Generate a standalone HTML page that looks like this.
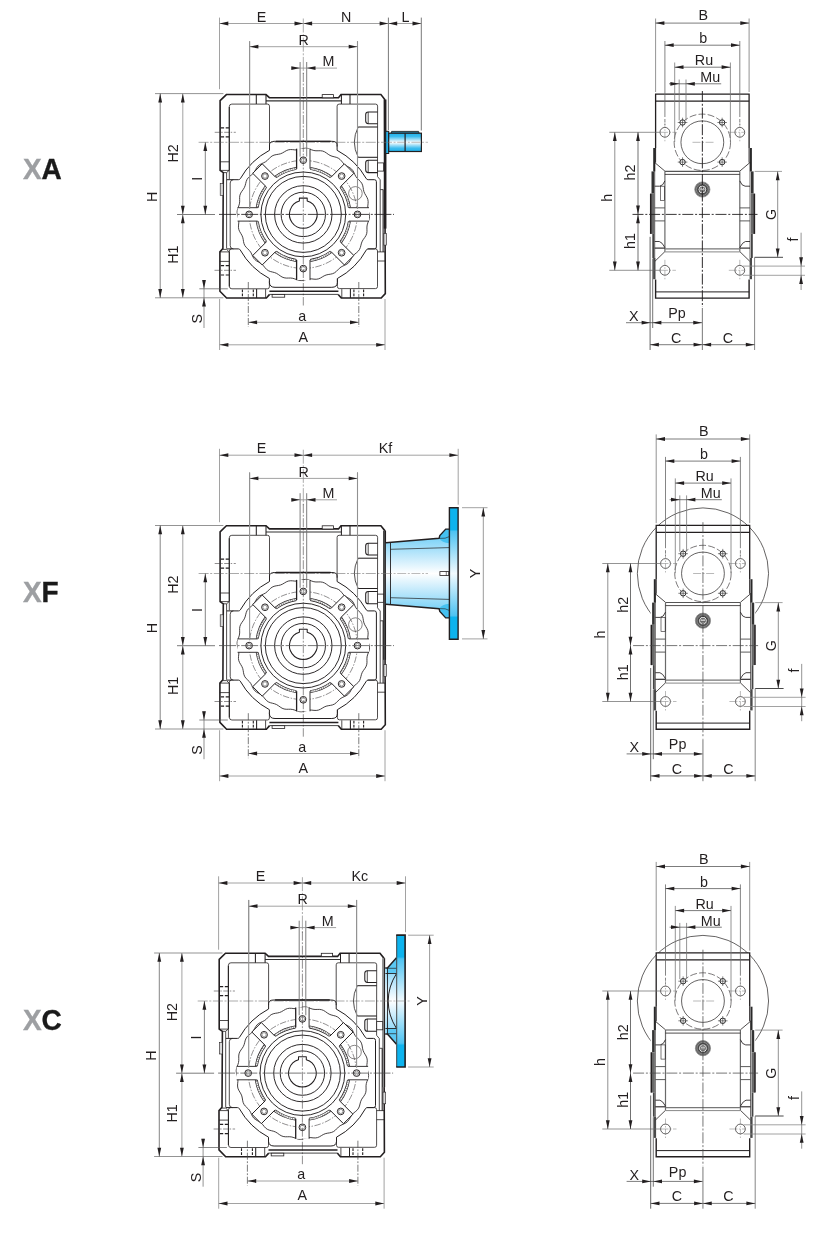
<!DOCTYPE html>
<html lang="en">
<head>
<meta charset="utf-8">
<title>XA XF XC dimensions</title>
<style>
html,body{margin:0;padding:0;background:#fff;}
body{width:822px;height:1255px;overflow:hidden;font-family:'Liberation Sans', Arial, Helvetica, sans-serif;}
svg{display:block;will-change:transform;transform:translateZ(0);}
svg text{font-family:'Liberation Sans', Arial, Helvetica, sans-serif;}
</style>
</head>
<body>
<svg width="822" height="1255" viewBox="0 0 822 1255">
<defs>
<linearGradient id="gs" x1="0" y1="0" x2="0" y2="1">
<stop offset="0" stop-color="#1fb1ea"/><stop offset="0.18" stop-color="#3dbcee"/><stop offset="0.5" stop-color="#ffffff"/><stop offset="0.82" stop-color="#3dbcee"/><stop offset="1" stop-color="#1fb1ea"/>
</linearGradient>
<linearGradient id="gf" x1="0" y1="0" x2="0" y2="1">
<stop offset="0" stop-color="#5ec9f4"/><stop offset="0.1" stop-color="#7dd3f7"/><stop offset="0.3" stop-color="#bfe8fb"/><stop offset="0.5" stop-color="#ffffff"/><stop offset="0.7" stop-color="#bfe8fb"/><stop offset="0.9" stop-color="#7dd3f7"/><stop offset="1" stop-color="#5ec9f4"/>
</linearGradient>
<linearGradient id="gp" x1="0" y1="0" x2="0" y2="1">
<stop offset="0" stop-color="#0db3ee"/><stop offset="0.165" stop-color="#0db3ee"/><stop offset="0.18" stop-color="#4dc3f2"/><stop offset="0.5" stop-color="#f2fafe"/><stop offset="0.82" stop-color="#4dc3f2"/><stop offset="0.835" stop-color="#0db3ee"/><stop offset="1" stop-color="#0db3ee"/>
</linearGradient>
</defs>
<rect x="0" y="0" width="822" height="1255" fill="#ffffff"/>
<g transform="translate(0,0)">
<line x1="219.5" y1="17.6" x2="219.5" y2="89.2" stroke="#8a8a8a" stroke-width="0.8"/>
<line x1="303.3" y1="18.5" x2="303.3" y2="74" stroke="#8a8a8a" stroke-width="0.7" stroke-dasharray="14 1.6 2 1.6"/>
<line x1="249.6" y1="41.2" x2="249.6" y2="210" stroke="#9a9a9a" stroke-width="1"/>
<line x1="357.5" y1="41.2" x2="357.5" y2="210" stroke="#9a9a9a" stroke-width="1"/>
<path d="M226.4,94.55 L266,94.55 L269.4,97.7 L338.5,97.7 L341,94.55 L380.9,94.55 L384.6,99.2 L385.3,293.6 L381.2,298 L341.3,298 L338.2,294.4 L269.6,294.4 L266.4,298 L226.6,298 L219.9,291.2 L219.9,251.9 L222.9,248.5 L223.3,172.6 L220.1,170.4 L220.1,100.6 Z" fill="#ffffff" stroke="none" stroke-width="0" stroke-linejoin="miter"/>
<path d="M269.6,294.4 L266.4,298 L226.6,298 L219.9,291.2 L219.9,251.9 L222.9,248.5 L223.3,172.6 L220.1,170.4 L220.1,100.6 L226.4,94.55 L266,94.55 L269.4,97.7 L338.5,97.7 L341,94.55 L380.9,94.55 L384.6,99.2 L385.3,293.6 L381.2,298 L341.3,298 L338.2,294.4" fill="none" stroke="#231f20" stroke-width="1.6" stroke-linejoin="miter"/>
<line x1="269.6" y1="294.4" x2="338.2" y2="294.4" stroke="#333" stroke-width="0.9"/>
<line x1="385.1" y1="99.5" x2="385.1" y2="228.6" stroke="#231f20" stroke-width="2.7"/>
<rect x="383.9" y="233.4" width="2.7" height="11.7" fill="#d9d9d9" stroke="#231f20" stroke-width="0.6"/>
<rect x="220.2" y="183.6" width="3" height="11.7" fill="#d9d9d9" stroke="#231f20" stroke-width="0.6"/>
<line x1="226.6" y1="172.6" x2="226.6" y2="248.6" stroke="#231f20" stroke-width="0.8"/>
<path d="M220.1,170.4 L229.1,170.4 M223.3,172.6 L226.6,172.6 L229.1,170.4" fill="none" stroke="#231f20" stroke-width="0.8" stroke-linejoin="round"/>
<path d="M219.9,251.9 L229.2,251.9 M222.9,249.4 L226.6,249.4 L229.2,251.9" fill="none" stroke="#231f20" stroke-width="0.8" stroke-linejoin="round"/>
<line x1="380.2" y1="189.6" x2="380.2" y2="252" stroke="#231f20" stroke-width="0.8"/>
<line x1="383.1" y1="189.6" x2="383.1" y2="252" stroke="#231f20" stroke-width="1.05"/>
<line x1="380.2" y1="189.6" x2="383.1" y2="189.6" stroke="#231f20" stroke-width="0.8"/>
<line x1="377.5" y1="251.9" x2="385.3" y2="251.9" stroke="#231f20" stroke-width="0.8"/>
<line x1="377.5" y1="261" x2="385.3" y2="261" stroke="#231f20" stroke-width="0.8"/>
<line x1="220.1" y1="161.8" x2="229" y2="161.8" stroke="#231f20" stroke-width="0.8"/>
<line x1="219.9" y1="261.4" x2="229.2" y2="261.4" stroke="#231f20" stroke-width="0.8"/>
<line x1="220.8" y1="127.9" x2="229" y2="127.9" stroke="#231f20" stroke-width="1.2" stroke-dasharray="3.3 1.6"/>
<line x1="220.8" y1="136.9" x2="229" y2="136.9" stroke="#231f20" stroke-width="1.2" stroke-dasharray="3.3 1.6"/>
<line x1="229.3" y1="107" x2="229.3" y2="170.4" stroke="#333" stroke-width="1.1"/>
<line x1="214.7" y1="132.3" x2="235.8" y2="132.3" stroke="#231f20" stroke-width="0.5" stroke-dasharray="5 1.5 1.5 1.5"/>
<line x1="220.8" y1="265.6" x2="229.2" y2="265.6" stroke="#231f20" stroke-width="1.2" stroke-dasharray="3.3 1.6"/>
<line x1="220.8" y1="275" x2="229.2" y2="275" stroke="#231f20" stroke-width="1.2" stroke-dasharray="3.3 1.6"/>
<line x1="229.3" y1="251.9" x2="229.3" y2="286.4" stroke="#333" stroke-width="1.1"/>
<line x1="214.5" y1="270.3" x2="236" y2="270.3" stroke="#231f20" stroke-width="0.5" stroke-dasharray="5 1.5 1.5 1.5"/>
<line x1="266" y1="100.8" x2="341.4" y2="100.8" stroke="#333" stroke-width="1.2"/>
<rect x="322.2" y="94.6" width="11.3" height="3.2" fill="#ffffff" stroke="#231f20" stroke-width="0.8"/>
<line x1="269.4" y1="291.2" x2="338.4" y2="291.2" stroke="#231f20" stroke-width="1.5"/>
<rect x="272.1" y="294.5" width="12.6" height="2.7" fill="#ffffff" stroke="#231f20" stroke-width="0.8"/>
<line x1="256.3" y1="94.55" x2="256.3" y2="104.1" stroke="#231f20" stroke-width="1.05"/>
<line x1="266" y1="94.55" x2="266" y2="104.1" stroke="#231f20" stroke-width="1.05"/>
<line x1="341.4" y1="94.55" x2="341.4" y2="104.1" stroke="#231f20" stroke-width="1.05"/>
<line x1="350" y1="94.55" x2="350" y2="104.1" stroke="#231f20" stroke-width="1.05"/>
<line x1="256.6" y1="289.1" x2="256.6" y2="298" stroke="#231f20" stroke-width="1.05"/>
<line x1="265.6" y1="289.1" x2="265.6" y2="298" stroke="#231f20" stroke-width="0.8"/>
<line x1="350.4" y1="289.1" x2="350.4" y2="298" stroke="#231f20" stroke-width="1.05"/>
<line x1="341.8" y1="289.1" x2="341.8" y2="298" stroke="#231f20" stroke-width="0.8"/>
<line x1="242.4" y1="289.6" x2="242.4" y2="297.8" stroke="#231f20" stroke-width="1.1" stroke-dasharray="2.6 1.4"/>
<line x1="253.3" y1="289.6" x2="253.3" y2="297.8" stroke="#231f20" stroke-width="1.1" stroke-dasharray="2.6 1.4"/>
<line x1="353.9" y1="289.6" x2="353.9" y2="297.8" stroke="#231f20" stroke-width="1.1" stroke-dasharray="2.6 1.4"/>
<line x1="363.6" y1="289.6" x2="363.6" y2="297.8" stroke="#231f20" stroke-width="1.1" stroke-dasharray="2.6 1.4"/>
<path d="M229.3,179.2 L229.3,106.6 Q229.3,104.1 231.8,104.1 L267.5,104.1 Q269.5,104.1 269.5,106.1 L269.5,146" fill="none" stroke="#231f20" stroke-width="0.8" stroke-linejoin="round"/>
<path d="M337.1,146.5 L337.1,106.1 Q337.1,104.1 339.1,104.1 L375.6,104.1 Q377.6,104.1 377.6,106.1 L377.5,176.6 L380.2,179.8 L380.2,189.6" fill="none" stroke="#231f20" stroke-width="0.8" stroke-linejoin="round"/>
<path d="M229.4,251 Q229.4,248.9 231.5,248.9 M229.4,251 L229.4,286.3 Q229.4,288.8 231.9,288.8 L267.4,288.8 Q269.4,288.8 269.4,286.8 L269.4,281.3" fill="none" stroke="#231f20" stroke-width="0.8" stroke-linejoin="round"/>
<path d="M337.4,278.6 L337.4,286.6 Q337.4,288.6 339.4,288.6 L375.5,288.6 Q377.5,288.6 377.5,286.6 L377.5,251 Q377.5,248.9 375.5,248.9 L367.8,248.9" fill="none" stroke="#231f20" stroke-width="0.8" stroke-linejoin="round"/>
<path d="M226.8,179.7 L238.4,179.7 Q239.6,179.7 240.3,178.7 A72.5,72.5 0 0 1 269.5,150.3 L269.5,144.6 Q269.7,141.3 274.8,141.3 L331.8,141.3 Q336.9,141.3 337.1,144.6 L337.1,150.3 A72.5,72.5 0 0 1 366.3,178.7 Q367,179.7 368.2,179.7 L374.4,179.7 Q376.4,179.7 376.4,181.7 L376.4,246.9 Q376.4,248.9 374.4,248.9 L368.2,248.9 Q367,248.9 366.4,249.9 A72.5,72.5 0 0 1 337.4,278.5 L337.4,282.6 Q337.2,287.3 331.8,287.3 L275,287.3 Q269.6,287.3 269.4,282.6 L269.4,278.5 A72.5,72.5 0 0 1 240.2,249.9 Q239.6,248.9 238.4,248.9 L226.8,248.9" fill="none" stroke="#231f20" stroke-width="1" stroke-linejoin="round"/>
<line x1="276" y1="141.3" x2="330.6" y2="141.3" stroke="#231f20" stroke-width="1.3"/>
<path d="M233.4,179.7 Q230.2,179.7 230.2,183 L230.2,245.6 Q230.2,248.9 233.4,248.9" fill="none" stroke="#231f20" stroke-width="0.8" stroke-linejoin="round"/>
<line x1="358.2" y1="127" x2="377.6" y2="127" stroke="#231f20" stroke-width="1.05"/>
<line x1="358.2" y1="157.3" x2="377.6" y2="157.3" stroke="#231f20" stroke-width="1.05"/>
<path d="M358.2,127 Q350.5,142.2 358.2,157.3" fill="none" stroke="#231f20" stroke-width="0.8" stroke-linejoin="round"/>
<path d="M377.6,112 L368.3,112 Q365.7,112 365.7,114.6 L365.7,121.1 Q365.7,123.7 368.3,123.7 L377.6,123.7" fill="none" stroke="#231f20" stroke-width="1.05" stroke-linejoin="round"/>
<line x1="368.2" y1="112" x2="368.2" y2="123.7" stroke="#231f20" stroke-width="0.8"/>
<path d="M377.6,160.2 L368.3,160.2 Q365.7,160.2 365.7,162.8 L365.7,170 Q365.7,172.6 368.3,172.6 L377.6,172.6" fill="none" stroke="#231f20" stroke-width="1.05" stroke-linejoin="round"/>
<line x1="368.2" y1="160.2" x2="368.2" y2="172.6" stroke="#231f20" stroke-width="0.8"/>
<rect x="377.6" y="162.9" width="6" height="8.2" fill="#ffffff" stroke="#231f20" stroke-width="0.8"/>
<polygon points="369.22,214.4 369.5,216.57 369.28,218.72 368.62,220.83 367.82,222.89 367.2,224.95 366.93,227.06 366.95,229.24 366.98,231.46 366.68,233.63 365.91,235.65 364.73,237.52 363.42,239.3 362.29,241.13 361.49,243.1 360.94,245.21 360.39,247.36 359.55,249.38 358.28,251.13 356.65,252.63 354.93,254.02 353.36,255.49 352.08,257.18 351.01,259.08 349.91,261.01 348.58,262.74 346.9,264.11 344.94,265.14 342.92,266.03 341.02,267.04 339.35,268.35 337.82,269.91 336.26,271.49 334.52,272.82 332.54,273.7 330.39,274.19 328.2,274.52 326.11,275.01 324.16,275.84 322.27,276.95 320.36,278.08 318.34,278.91 316.2,279.25 313.99,279.16 311.79,278.92 309.65,278.85 307.54,279.14 305.44,279.73 303.3,280.32 301.13,280.6 298.98,280.38 296.87,279.72 294.81,278.92 292.75,278.3 290.64,278.03 288.46,278.05 286.24,278.08 284.07,277.78 282.05,277.01 280.18,275.83 278.4,274.52 276.57,273.39 274.6,272.59 272.49,272.04 270.34,271.49 268.32,270.65 266.57,269.38 265.07,267.75 263.68,266.03 262.21,264.46 260.52,263.18 258.62,262.11 256.69,261.01 254.96,259.68 253.59,258 252.56,256.04 251.67,254.02 250.66,252.12 249.35,250.45 247.79,248.92 246.21,247.36 244.88,245.62 244,243.64 243.51,241.49 243.18,239.3 242.69,237.21 241.86,235.26 240.75,233.37 239.62,231.46 238.79,229.44 238.45,227.3 238.54,225.09 238.78,222.89 238.85,220.75 238.56,218.64 237.97,216.54 237.38,214.4 237.1,212.23 237.32,210.08 237.98,207.97 238.78,205.91 239.4,203.85 239.67,201.74 239.65,199.56 239.62,197.34 239.92,195.17 240.69,193.15 241.87,191.28 243.18,189.5 244.31,187.67 245.11,185.7 245.66,183.59 246.21,181.44 247.05,179.42 248.32,177.67 249.95,176.17 251.67,174.78 253.24,173.31 254.52,171.62 255.59,169.72 256.69,167.79 258.02,166.06 259.7,164.69 261.66,163.66 263.68,162.77 265.58,161.76 267.25,160.45 268.78,158.89 270.34,157.31 272.08,155.98 274.06,155.1 276.21,154.61 278.4,154.28 280.49,153.79 282.44,152.96 284.33,151.85 286.24,150.72 288.26,149.89 290.4,149.55 292.61,149.64 294.81,149.88 296.95,149.95 299.06,149.66 301.16,149.07 303.3,148.48 305.47,148.2 307.62,148.42 309.73,149.08 311.79,149.88 313.85,150.5 315.96,150.77 318.14,150.75 320.36,150.72 322.53,151.02 324.55,151.79 326.42,152.97 328.2,154.28 330.03,155.41 332,156.21 334.11,156.76 336.26,157.31 338.28,158.15 340.03,159.42 341.53,161.05 342.92,162.77 344.39,164.34 346.08,165.62 347.98,166.69 349.91,167.79 351.64,169.12 353.01,170.8 354.04,172.76 354.93,174.78 355.94,176.68 357.25,178.35 358.81,179.88 360.39,181.44 361.72,183.18 362.6,185.16 363.09,187.31 363.42,189.5 363.91,191.59 364.74,193.54 365.85,195.43 366.98,197.34 367.81,199.36 368.15,201.5 368.06,203.71 367.82,205.91 367.75,208.05 368.04,210.16 368.63,212.26" fill="none" stroke="#231f20" stroke-width="0.85"/>
<circle cx="303.3" cy="214.4" r="54" fill="none" stroke="#231f20" stroke-width="0.5" stroke-dasharray="6.5 1.5 1.5 1.5"/>
<polygon points="348.9,207.7 369,207.7 369,221.1 348.9,221.1" fill="#ffffff" stroke="none"/>
<line x1="348.9" y1="207.7" x2="369" y2="207.7" stroke="#231f20" stroke-width="0.9"/>
<line x1="348.9" y1="221.1" x2="369" y2="221.1" stroke="#231f20" stroke-width="0.9"/>
<circle cx="357.5" cy="214.4" r="3.35" fill="#ffffff" stroke="#231f20" stroke-width="0.95"/>
<circle cx="357.5" cy="214.4" r="2.1" fill="none" stroke="#4a4a4a" stroke-width="0.55"/>
<polygon points="340.28,241.91 353.86,255.48 344.38,264.96 330.81,251.38" fill="#ffffff" stroke="none"/>
<path d="M340.28,241.91 L353.86,255.48 L344.38,264.96 L330.81,251.38" fill="none" stroke="#231f20" stroke-width="1" stroke-linejoin="miter"/>
<circle cx="341.63" cy="252.73" r="3.35" fill="#ffffff" stroke="#231f20" stroke-width="0.95"/>
<circle cx="341.63" cy="252.73" r="2.1" fill="none" stroke="#4a4a4a" stroke-width="0.55"/>
<polygon points="310,260 310,280.1 296.6,280.1 296.6,260" fill="#ffffff" stroke="none"/>
<line x1="310" y1="260" x2="310" y2="280.1" stroke="#231f20" stroke-width="0.9"/>
<line x1="296.6" y1="260" x2="296.6" y2="280.1" stroke="#231f20" stroke-width="1.3"/>
<circle cx="303.3" cy="268.6" r="3.35" fill="#ffffff" stroke="#231f20" stroke-width="0.95"/>
<circle cx="303.3" cy="268.6" r="2.1" fill="none" stroke="#4a4a4a" stroke-width="0.55"/>
<polygon points="275.79,251.38 262.22,264.96 252.74,255.48 266.32,241.91" fill="#ffffff" stroke="none"/>
<path d="M275.79,251.38 L262.22,264.96 L252.74,255.48 L266.32,241.91" fill="none" stroke="#231f20" stroke-width="1" stroke-linejoin="miter"/>
<circle cx="264.97" cy="252.73" r="3.35" fill="#ffffff" stroke="#231f20" stroke-width="0.95"/>
<circle cx="264.97" cy="252.73" r="2.1" fill="none" stroke="#4a4a4a" stroke-width="0.55"/>
<polygon points="257.7,221.1 237.6,221.1 237.6,207.7 257.7,207.7" fill="#ffffff" stroke="none"/>
<line x1="257.7" y1="221.1" x2="237.6" y2="221.1" stroke="#231f20" stroke-width="0.9"/>
<line x1="257.7" y1="207.7" x2="237.6" y2="207.7" stroke="#231f20" stroke-width="0.9"/>
<circle cx="249.1" cy="214.4" r="3.35" fill="#ffffff" stroke="#231f20" stroke-width="0.95"/>
<circle cx="249.1" cy="214.4" r="2.1" fill="none" stroke="#4a4a4a" stroke-width="0.55"/>
<polygon points="266.32,186.89 252.74,173.32 262.22,163.84 275.79,177.42" fill="#ffffff" stroke="none"/>
<path d="M266.32,186.89 L252.74,173.32 L262.22,163.84 L275.79,177.42" fill="none" stroke="#231f20" stroke-width="1" stroke-linejoin="miter"/>
<circle cx="264.97" cy="176.07" r="3.35" fill="#ffffff" stroke="#231f20" stroke-width="0.95"/>
<circle cx="264.97" cy="176.07" r="2.1" fill="none" stroke="#4a4a4a" stroke-width="0.55"/>
<polygon points="296.6,168.8 296.6,148.7 310,148.7 310,168.8" fill="#ffffff" stroke="none"/>
<line x1="296.6" y1="168.8" x2="296.6" y2="148.7" stroke="#231f20" stroke-width="1.3"/>
<line x1="310" y1="168.8" x2="310" y2="148.7" stroke="#231f20" stroke-width="0.9"/>
<circle cx="303.3" cy="160.2" r="3.35" fill="#ffffff" stroke="#231f20" stroke-width="0.95"/>
<circle cx="303.3" cy="160.2" r="2.1" fill="none" stroke="#4a4a4a" stroke-width="0.55"/>
<polygon points="330.81,177.42 344.38,163.84 353.86,173.32 340.28,186.89" fill="#ffffff" stroke="none"/>
<path d="M330.81,177.42 L344.38,163.84 L353.86,173.32 L340.28,186.89" fill="none" stroke="#231f20" stroke-width="1" stroke-linejoin="miter"/>
<circle cx="341.63" cy="176.07" r="3.35" fill="#ffffff" stroke="#231f20" stroke-width="0.95"/>
<circle cx="341.63" cy="176.07" r="2.1" fill="none" stroke="#4a4a4a" stroke-width="0.55"/>
<path d="M349.38,221.37 A46.6,46.6 0 0 1 340.81,242.05" fill="none" stroke="#231f20" stroke-width="2.9" stroke-linejoin="round"/>
<path d="M349.3,221.85 A46.6,46.6 0 0 1 341.1,241.66" fill="none" stroke="#ffffff" stroke-width="1.5" stroke-linejoin="round"/>
<path d="M349.3,221.85 A46.6,46.6 0 0 1 341.1,241.66" fill="none" stroke="#6b6b6b" stroke-width="1.5" stroke-linejoin="round" stroke-dasharray="0.7 1.3"/>
<path d="M330.95,251.91 A46.6,46.6 0 0 1 310.27,260.48" fill="none" stroke="#231f20" stroke-width="2.9" stroke-linejoin="round"/>
<path d="M330.56,252.2 A46.6,46.6 0 0 1 310.75,260.4" fill="none" stroke="#ffffff" stroke-width="1.5" stroke-linejoin="round"/>
<path d="M330.56,252.2 A46.6,46.6 0 0 1 310.75,260.4" fill="none" stroke="#6b6b6b" stroke-width="1.5" stroke-linejoin="round" stroke-dasharray="0.7 1.3"/>
<path d="M296.33,260.48 A46.6,46.6 0 0 1 275.65,251.91" fill="none" stroke="#231f20" stroke-width="2.9" stroke-linejoin="round"/>
<path d="M295.85,260.4 A46.6,46.6 0 0 1 276.04,252.2" fill="none" stroke="#ffffff" stroke-width="1.5" stroke-linejoin="round"/>
<path d="M295.85,260.4 A46.6,46.6 0 0 1 276.04,252.2" fill="none" stroke="#6b6b6b" stroke-width="1.5" stroke-linejoin="round" stroke-dasharray="0.7 1.3"/>
<path d="M265.79,242.05 A46.6,46.6 0 0 1 257.22,221.37" fill="none" stroke="#231f20" stroke-width="2.9" stroke-linejoin="round"/>
<path d="M265.5,241.66 A46.6,46.6 0 0 1 257.3,221.85" fill="none" stroke="#ffffff" stroke-width="1.5" stroke-linejoin="round"/>
<path d="M265.5,241.66 A46.6,46.6 0 0 1 257.3,221.85" fill="none" stroke="#6b6b6b" stroke-width="1.5" stroke-linejoin="round" stroke-dasharray="0.7 1.3"/>
<path d="M257.22,207.43 A46.6,46.6 0 0 1 265.79,186.75" fill="none" stroke="#231f20" stroke-width="2.9" stroke-linejoin="round"/>
<path d="M257.3,206.95 A46.6,46.6 0 0 1 265.5,187.14" fill="none" stroke="#ffffff" stroke-width="1.5" stroke-linejoin="round"/>
<path d="M257.3,206.95 A46.6,46.6 0 0 1 265.5,187.14" fill="none" stroke="#6b6b6b" stroke-width="1.5" stroke-linejoin="round" stroke-dasharray="0.7 1.3"/>
<path d="M275.65,176.89 A46.6,46.6 0 0 1 296.33,168.32" fill="none" stroke="#231f20" stroke-width="2.9" stroke-linejoin="round"/>
<path d="M276.04,176.6 A46.6,46.6 0 0 1 295.85,168.4" fill="none" stroke="#ffffff" stroke-width="1.5" stroke-linejoin="round"/>
<path d="M276.04,176.6 A46.6,46.6 0 0 1 295.85,168.4" fill="none" stroke="#6b6b6b" stroke-width="1.5" stroke-linejoin="round" stroke-dasharray="0.7 1.3"/>
<path d="M310.27,168.32 A46.6,46.6 0 0 1 330.95,176.89" fill="none" stroke="#231f20" stroke-width="2.9" stroke-linejoin="round"/>
<path d="M310.75,168.4 A46.6,46.6 0 0 1 330.56,176.6" fill="none" stroke="#ffffff" stroke-width="1.5" stroke-linejoin="round"/>
<path d="M310.75,168.4 A46.6,46.6 0 0 1 330.56,176.6" fill="none" stroke="#6b6b6b" stroke-width="1.5" stroke-linejoin="round" stroke-dasharray="0.7 1.3"/>
<path d="M340.81,186.75 A46.6,46.6 0 0 1 349.38,207.43" fill="none" stroke="#231f20" stroke-width="2.9" stroke-linejoin="round"/>
<path d="M341.1,187.14 A46.6,46.6 0 0 1 349.3,206.95" fill="none" stroke="#ffffff" stroke-width="1.5" stroke-linejoin="round"/>
<path d="M341.1,187.14 A46.6,46.6 0 0 1 349.3,206.95" fill="none" stroke="#6b6b6b" stroke-width="1.5" stroke-linejoin="round" stroke-dasharray="0.7 1.3"/>
<circle cx="303.3" cy="214.4" r="42.4" fill="#ffffff" stroke="#231f20" stroke-width="0.95"/>
<circle cx="303.3" cy="214.4" r="38" fill="none" stroke="#231f20" stroke-width="0.95"/>
<circle cx="303.3" cy="214.4" r="28.7" fill="none" stroke="#231f20" stroke-width="0.95"/>
<circle cx="303.3" cy="214.4" r="22.2" fill="none" stroke="#231f20" stroke-width="0.95"/>
<path d="M299.4,201.11 L299.4,198.1 L307.2,198.1 L307.2,201.11 A13.85,13.85 0 1 1 299.4,201.11 Z" fill="#ffffff" stroke="#231f20" stroke-width="1.05" stroke-linejoin="round"/>
<circle cx="355.4" cy="193.4" r="6.8" fill="none" stroke="#231f20" stroke-width="0.55"/>
<line x1="249.6" y1="41.2" x2="249.6" y2="209" stroke="#919191" stroke-width="1.1"/>
<line x1="357.5" y1="41.2" x2="357.5" y2="209" stroke="#919191" stroke-width="1.1"/>
<line x1="300.1" y1="62" x2="300.1" y2="156.6" stroke="#6e6e6e" stroke-width="0.9"/>
<line x1="306.7" y1="62" x2="306.7" y2="156.6" stroke="#6e6e6e" stroke-width="0.9"/>
<line x1="219" y1="214.4" x2="394" y2="214.4" stroke="#231f20" stroke-width="0.85" stroke-dasharray="17 1.6 2 1.6"/>
<line x1="303.3" y1="73" x2="303.3" y2="305.5" stroke="#231f20" stroke-width="0.5" stroke-dasharray="9 1.6 1.8 1.6"/>
<line x1="198.6" y1="142.3" x2="383" y2="142.3" stroke="#555" stroke-width="0.5" stroke-dasharray="10 1.6 2 1.6"/>
<line x1="248.3" y1="282" x2="248.3" y2="327" stroke="#444" stroke-width="0.7" stroke-dasharray="7 1.6 1.8 1.6"/>
<line x1="358.8" y1="282" x2="358.8" y2="327" stroke="#444" stroke-width="0.7" stroke-dasharray="7 1.6 1.8 1.6"/>
<rect x="385.7" y="131.3" width="3" height="22.2" fill="#27b3ea" stroke="#231f20" stroke-width="1"/>
<path d="M391.1,133.2 L391.6,131.4 L418.6,131.4 L419.1,133.2 Z" fill="#27b3ea" stroke="#231f20" stroke-width="0.9" stroke-linejoin="round"/>
<rect x="388.7" y="133.2" width="32.7" height="18.3" fill="url(#gs)" stroke="#231f20" stroke-width="1.2"/>
<line x1="405.1" y1="133.2" x2="405.1" y2="151.5" stroke="#231f20" stroke-width="1.2"/>
<line x1="383" y1="142.3" x2="428" y2="142.3" stroke="#777" stroke-width="0.5" stroke-dasharray="9 1.6 2 1.6"/>
<line x1="388.4" y1="17.6" x2="388.4" y2="130" stroke="#4a4a4a" stroke-width="0.75"/>
<line x1="421.3" y1="17.6" x2="421.3" y2="130.5" stroke="#4a4a4a" stroke-width="0.75"/>
<line x1="219.5" y1="23.5" x2="303.3" y2="23.5" stroke="#8a8a8a" stroke-width="0.8"/>
<polygon points="219.5,23.5 228.3,21.6 228.3,25.4" fill="#231f20"/>
<polygon points="303.3,23.5 294.5,25.4 294.5,21.6" fill="#231f20"/>
<line x1="303.3" y1="23.5" x2="388.4" y2="23.5" stroke="#8a8a8a" stroke-width="0.8"/>
<polygon points="303.3,23.5 312.1,21.6 312.1,25.4" fill="#231f20"/>
<polygon points="388.4,23.5 379.6,25.4 379.6,21.6" fill="#231f20"/>
<line x1="388.4" y1="23.5" x2="421.3" y2="23.5" stroke="#8a8a8a" stroke-width="0.8"/>
<polygon points="388.4,23.5 397.2,21.6 397.2,25.4" fill="#231f20"/>
<polygon points="421.3,23.5 412.5,25.4 412.5,21.6" fill="#231f20"/>
<text x="261.5" y="21.5" font-size="14.3" text-anchor="middle" fill="#231f20">E</text>
<text x="346.2" y="21.5" font-size="14.3" text-anchor="middle" fill="#231f20">N</text>
<text x="405.5" y="21.5" font-size="14.3" text-anchor="middle" fill="#231f20">L</text>
<line x1="249.6" y1="46.7" x2="357.5" y2="46.7" stroke="#8a8a8a" stroke-width="0.8"/>
<polygon points="249.6,46.7 258.4,44.8 258.4,48.6" fill="#231f20"/>
<polygon points="357.5,46.7 348.7,48.6 348.7,44.8" fill="#231f20"/>
<text x="303.6" y="45" font-size="14.3" text-anchor="middle" fill="#231f20">R</text>
<line x1="291.5" y1="68.1" x2="337" y2="68.1" stroke="#8a8a8a" stroke-width="0.8"/>
<polygon points="300.1,68.1 291.3,70 291.3,66.2" fill="#231f20"/>
<polygon points="306.7,68.1 315.5,66.2 315.5,70" fill="#231f20"/>
<text x="328.5" y="66.2" font-size="14.3" text-anchor="middle" fill="#231f20">M</text>
<line x1="155" y1="93.6" x2="223.4" y2="93.6" stroke="#666" stroke-width="0.7"/>
<line x1="155" y1="297.8" x2="223.4" y2="297.8" stroke="#666" stroke-width="0.7"/>
<line x1="177" y1="214.5" x2="215" y2="214.5" stroke="#444" stroke-width="0.7"/>
<line x1="160.2" y1="93.6" x2="160.2" y2="297.8" stroke="#444" stroke-width="0.65"/>
<polygon points="160.2,93.6 162.1,102.4 158.3,102.4" fill="#231f20"/>
<polygon points="160.2,297.8 158.3,289 162.1,289" fill="#231f20"/>
<line x1="182.8" y1="93.6" x2="182.8" y2="214.5" stroke="#8a8a8a" stroke-width="0.8"/>
<polygon points="182.8,93.6 184.7,102.4 180.9,102.4" fill="#231f20"/>
<polygon points="182.8,214.5 180.9,205.7 184.7,205.7" fill="#231f20"/>
<line x1="182.8" y1="214.5" x2="182.8" y2="297.8" stroke="#8a8a8a" stroke-width="0.8"/>
<polygon points="182.8,214.5 184.7,223.3 180.9,223.3" fill="#231f20"/>
<polygon points="182.8,297.8 180.9,289 184.7,289" fill="#231f20"/>
<line x1="205.3" y1="142.3" x2="205.3" y2="214.5" stroke="#444" stroke-width="0.65"/>
<polygon points="205.3,142.3 207.2,151.1 203.4,151.1" fill="#231f20"/>
<polygon points="205.3,214.5 203.4,205.7 207.2,205.7" fill="#231f20"/>
<text x="157" y="196.8" font-size="14.3" text-anchor="middle" fill="#231f20" transform="rotate(-90 157 196.8)">H</text>
<text x="178.2" y="153.4" font-size="14.3" text-anchor="middle" fill="#231f20" transform="rotate(-90 178.2 153.4)">H2</text>
<text x="178.2" y="254.6" font-size="14.3" text-anchor="middle" fill="#231f20" transform="rotate(-90 178.2 254.6)">H1</text>
<text x="202.2" y="178.7" font-size="14.3" text-anchor="middle" fill="#231f20" transform="rotate(-90 202.2 178.7)">I</text>
<line x1="199.3" y1="288.8" x2="227.8" y2="288.8" stroke="#555" stroke-width="0.7"/>
<line x1="204" y1="280" x2="204" y2="328" stroke="#666" stroke-width="0.7"/>
<polygon points="204,288.8 202.1,280 205.9,280" fill="#231f20"/>
<polygon points="204,297.8 205.9,306.6 202.1,306.6" fill="#231f20"/>
<text x="202.2" y="318.8" font-size="14.3" text-anchor="middle" fill="#231f20" transform="rotate(-90 202.2 318.8)">S</text>
<line x1="219.6" y1="299" x2="219.6" y2="350" stroke="#8a8a8a" stroke-width="0.8"/>
<line x1="385" y1="299" x2="385" y2="350" stroke="#8a8a8a" stroke-width="0.8"/>
<line x1="248.3" y1="322.3" x2="358.8" y2="322.3" stroke="#8a8a8a" stroke-width="0.8"/>
<polygon points="248.3,322.3 257.1,320.4 257.1,324.2" fill="#231f20"/>
<polygon points="358.8,322.3 350,324.2 350,320.4" fill="#231f20"/>
<line x1="219.6" y1="344.8" x2="385" y2="344.8" stroke="#8a8a8a" stroke-width="0.8"/>
<polygon points="219.6,344.8 228.4,342.9 228.4,346.7" fill="#231f20"/>
<polygon points="385,344.8 376.2,346.7 376.2,342.9" fill="#231f20"/>
<text x="302.2" y="320.6" font-size="14.3" text-anchor="middle" fill="#231f20">a</text>
<text x="303.2" y="341.8" font-size="14.3" text-anchor="middle" fill="#231f20">A</text>
</g>
<g transform="translate(0,0)">
<path d="M655.6,94.2 L749.1,94.2 L749.1,298.1 L655.6,298.1 Z" fill="#ffffff" stroke="none" stroke-width="0" stroke-linejoin="round"/>
<path d="M650,171 L754.7,171 L754.7,258 L650,258 Z" fill="#ffffff" stroke="none" stroke-width="0" stroke-linejoin="round"/>
<path d="M653,148 L751.7,148 L751.7,171 L653,171 Z" fill="#ffffff" stroke="none" stroke-width="0" stroke-linejoin="round"/>
<path d="M655.6,148 L655.6,94.2 L749.1,94.2 L749.1,148" fill="none" stroke="#231f20" stroke-width="1.3" stroke-linejoin="miter"/>
<line x1="655.6" y1="101.2" x2="749.1" y2="101.2" stroke="#231f20" stroke-width="1.25"/>
<path d="M655.6,279.5 L655.6,298.1 L749.1,298.1 L749.1,279.5" fill="none" stroke="#231f20" stroke-width="1.4" stroke-linejoin="miter"/>
<line x1="655.6" y1="291.9" x2="749.1" y2="291.9" stroke="#231f20" stroke-width="1"/>
<line x1="654.2" y1="148" x2="654.2" y2="171.4" stroke="#2a2a2a" stroke-width="2"/>
<line x1="652.8" y1="171.4" x2="652.8" y2="193.6" stroke="#333" stroke-width="2.6"/>
<line x1="652.5" y1="193.6" x2="652.5" y2="233.9" stroke="#6a6a6a" stroke-width="3.4"/>
<line x1="650.7" y1="193.6" x2="650.7" y2="233.9" stroke="#231f20" stroke-width="1.5"/>
<line x1="653.2" y1="233.9" x2="653.2" y2="258" stroke="#444" stroke-width="1.8"/>
<line x1="654.3" y1="258" x2="654.3" y2="279.2" stroke="#4a4a4a" stroke-width="2.4"/>
<line x1="654.7" y1="162" x2="654.7" y2="258" stroke="#231f20" stroke-width="0.7"/>
<line x1="655.6" y1="148" x2="655.6" y2="162.6" stroke="#231f20" stroke-width="1"/>
<line x1="654.8" y1="162.6" x2="664.9" y2="171.1" stroke="#231f20" stroke-width="0.8"/>
<line x1="664.9" y1="251.6" x2="655" y2="261.2" stroke="#231f20" stroke-width="0.8"/>
<line x1="664.9" y1="171.2" x2="664.9" y2="251.8" stroke="#6a6a6a" stroke-width="1.2"/>
<path d="M664.9,180.9 Q663,186 659.6,186.2 L654.7,186.2" fill="none" stroke="#231f20" stroke-width="0.85" stroke-linejoin="round"/>
<path d="M654.7,241.5 L659.3,241.5 Q662,242 664.9,247.5" fill="none" stroke="#231f20" stroke-width="0.85" stroke-linejoin="round"/>
<line x1="654.7" y1="207.9" x2="664.9" y2="207.9" stroke="#4a4a4a" stroke-width="0.9"/>
<line x1="654.7" y1="220.9" x2="664.9" y2="220.9" stroke="#4a4a4a" stroke-width="0.9"/>
<line x1="654.7" y1="248.1" x2="664.9" y2="248.1" stroke="#231f20" stroke-width="1.1"/>
<line x1="750.9" y1="148" x2="750.9" y2="171.4" stroke="#2a2a2a" stroke-width="2"/>
<line x1="752.3" y1="171.4" x2="752.3" y2="193.6" stroke="#333" stroke-width="2.6"/>
<line x1="752.6" y1="193.6" x2="752.6" y2="233.9" stroke="#6a6a6a" stroke-width="3.4"/>
<line x1="754.4" y1="193.6" x2="754.4" y2="233.9" stroke="#231f20" stroke-width="1.5"/>
<line x1="751.9" y1="233.9" x2="751.9" y2="258" stroke="#444" stroke-width="1.8"/>
<line x1="750.8" y1="258" x2="750.8" y2="279.2" stroke="#4a4a4a" stroke-width="2.4"/>
<line x1="750" y1="162" x2="750" y2="258" stroke="#231f20" stroke-width="0.7"/>
<line x1="749.1" y1="148" x2="749.1" y2="162.6" stroke="#231f20" stroke-width="1"/>
<line x1="749.9" y1="162.6" x2="739.8" y2="171.1" stroke="#231f20" stroke-width="0.8"/>
<line x1="739.8" y1="251.6" x2="749.7" y2="261.2" stroke="#231f20" stroke-width="0.8"/>
<line x1="739.8" y1="171.2" x2="739.8" y2="251.8" stroke="#6a6a6a" stroke-width="1.2"/>
<path d="M739.8,180.9 Q741.7,186 745.1,186.2 L750,186.2" fill="none" stroke="#231f20" stroke-width="0.85" stroke-linejoin="round"/>
<path d="M750,241.5 L745.4,241.5 Q742.7,242 739.8,247.5" fill="none" stroke="#231f20" stroke-width="0.85" stroke-linejoin="round"/>
<line x1="750" y1="207.9" x2="739.8" y2="207.9" stroke="#4a4a4a" stroke-width="0.9"/>
<line x1="750" y1="220.9" x2="739.8" y2="220.9" stroke="#4a4a4a" stroke-width="0.9"/>
<line x1="750" y1="248.1" x2="739.8" y2="248.1" stroke="#231f20" stroke-width="1.1"/>
<rect x="660.4" y="186.2" width="4.2" height="14.2" fill="none" stroke="#231f20" stroke-width="0.6"/>
<line x1="664.9" y1="171.3" x2="739.8" y2="171.3" stroke="#555" stroke-width="1.2"/>
<line x1="664.9" y1="174.4" x2="739.8" y2="174.4" stroke="#231f20" stroke-width="0.8"/>
<line x1="664.9" y1="248.9" x2="739.8" y2="248.9" stroke="#777" stroke-width="1.2"/>
<line x1="664.9" y1="251.9" x2="739.8" y2="251.9" stroke="#888" stroke-width="1"/>
<circle cx="702.35" cy="142.3" r="21.4" fill="none" stroke="#231f20" stroke-width="0.7"/>
<circle cx="702.35" cy="142.3" r="28.2" fill="none" stroke="#231f20" stroke-width="0.6" stroke-dasharray="7 2.2"/>
<circle cx="682.55" cy="122.5" r="2.7" fill="#ffffff" stroke="#2a2a2a" stroke-width="1"/>
<line x1="677.75" y1="122.5" x2="687.35" y2="122.5" stroke="#333" stroke-width="0.6"/>
<line x1="682.55" y1="117.7" x2="682.55" y2="127.3" stroke="#333" stroke-width="0.6"/>
<circle cx="682.55" cy="162.1" r="2.7" fill="#ffffff" stroke="#2a2a2a" stroke-width="1"/>
<line x1="677.75" y1="162.1" x2="687.35" y2="162.1" stroke="#333" stroke-width="0.6"/>
<line x1="682.55" y1="157.3" x2="682.55" y2="166.9" stroke="#333" stroke-width="0.6"/>
<circle cx="722.15" cy="122.5" r="2.7" fill="#ffffff" stroke="#2a2a2a" stroke-width="1"/>
<line x1="717.35" y1="122.5" x2="726.95" y2="122.5" stroke="#333" stroke-width="0.6"/>
<line x1="722.15" y1="117.7" x2="722.15" y2="127.3" stroke="#333" stroke-width="0.6"/>
<circle cx="722.15" cy="162.1" r="2.7" fill="#ffffff" stroke="#2a2a2a" stroke-width="1"/>
<line x1="717.35" y1="162.1" x2="726.95" y2="162.1" stroke="#333" stroke-width="0.6"/>
<line x1="722.15" y1="157.3" x2="722.15" y2="166.9" stroke="#333" stroke-width="0.6"/>
<line x1="692.5" y1="142.3" x2="713.7" y2="142.3" stroke="#8a8a8a" stroke-width="0.6" stroke-dasharray="8 1.5 2 1.5"/>
<circle cx="664.9" cy="132.3" r="4.9" fill="#ffffff" stroke="#231f20" stroke-width="0.7"/>
<line x1="664.9" y1="121.8" x2="664.9" y2="142.8" stroke="#777" stroke-width="0.5" stroke-dasharray="6 1.5 1.5 1.5"/>
<circle cx="664.9" cy="270.3" r="4.9" fill="#ffffff" stroke="#231f20" stroke-width="0.7"/>
<line x1="664.9" y1="259.8" x2="664.9" y2="280.8" stroke="#777" stroke-width="0.5" stroke-dasharray="6 1.5 1.5 1.5"/>
<circle cx="739.8" cy="132.3" r="4.9" fill="#ffffff" stroke="#231f20" stroke-width="0.7"/>
<line x1="739.8" y1="121.8" x2="739.8" y2="142.8" stroke="#777" stroke-width="0.5" stroke-dasharray="6 1.5 1.5 1.5"/>
<circle cx="739.8" cy="270.3" r="4.9" fill="#ffffff" stroke="#231f20" stroke-width="0.7"/>
<line x1="739.8" y1="259.8" x2="739.8" y2="280.8" stroke="#777" stroke-width="0.5" stroke-dasharray="6 1.5 1.5 1.5"/>
<line x1="659.9" y1="132.3" x2="675.9" y2="132.3" stroke="#777" stroke-width="0.5" stroke-dasharray="8 1.5 1.5 1.5"/>
<line x1="728.8" y1="132.3" x2="744.8" y2="132.3" stroke="#777" stroke-width="0.5" stroke-dasharray="8 1.5 1.5 1.5"/>
<line x1="659.9" y1="270.3" x2="675.9" y2="270.3" stroke="#777" stroke-width="0.5" stroke-dasharray="8 1.5 1.5 1.5"/>
<line x1="728.8" y1="270.3" x2="744.8" y2="270.3" stroke="#777" stroke-width="0.5" stroke-dasharray="8 1.5 1.5 1.5"/>
<circle cx="702.35" cy="189.5" r="7.6" fill="#5c5c5c" stroke="#8a8a8a" stroke-width="0.8"/>
<circle cx="702.35" cy="189.5" r="6" fill="none" stroke="#9a9a9a" stroke-width="0.7"/>
<circle cx="702.35" cy="189.5" r="4.3" fill="#ececec" stroke="#2e2e2e" stroke-width="0.9"/>
<circle cx="702.35" cy="189.5" r="2.6" fill="#c9c9c9" stroke="#444" stroke-width="0.7"/>
<line x1="700.15" y1="190.3" x2="704.55" y2="190.3" stroke="#444" stroke-width="0.7"/>
<line x1="655.6" y1="18.5" x2="655.6" y2="92" stroke="#777" stroke-width="0.8"/>
<line x1="749.1" y1="18.5" x2="749.1" y2="92" stroke="#777" stroke-width="0.8"/>
<line x1="664.9" y1="41" x2="664.9" y2="125" stroke="#666" stroke-width="0.8" stroke-dasharray="76 2 3 2 40 2 3 2"/>
<line x1="739.8" y1="41" x2="739.8" y2="125" stroke="#666" stroke-width="0.8" stroke-dasharray="76 2 3 2 40 2 3 2"/>
<line x1="674.7" y1="62.5" x2="674.7" y2="142" stroke="#777" stroke-width="0.8"/>
<line x1="730.4" y1="62.5" x2="730.4" y2="142" stroke="#777" stroke-width="0.8"/>
<line x1="679.2" y1="79.5" x2="679.2" y2="120.5" stroke="#777" stroke-width="0.8"/>
<line x1="686" y1="79.5" x2="686" y2="120.5" stroke="#777" stroke-width="0.8"/>
<line x1="702.35" y1="91" x2="702.35" y2="307" stroke="#231f20" stroke-width="0.95" stroke-dasharray="11 1.8 2 1.8"/>
<line x1="632.5" y1="214.4" x2="757.5" y2="214.4" stroke="#231f20" stroke-width="0.9" stroke-dasharray="11 1.8 2 1.8"/>
<line x1="655.6" y1="23.1" x2="749.1" y2="23.1" stroke="#444" stroke-width="0.7"/>
<polygon points="655.6,23.1 664.4,21.2 664.4,25" fill="#231f20"/>
<polygon points="749.1,23.1 740.3,25 740.3,21.2" fill="#231f20"/>
<line x1="664.9" y1="45.2" x2="739.8" y2="45.2" stroke="#444" stroke-width="0.7"/>
<polygon points="664.9,45.2 673.7,43.3 673.7,47.1" fill="#231f20"/>
<polygon points="739.8,45.2 731,47.1 731,43.3" fill="#231f20"/>
<line x1="674.7" y1="67.2" x2="730.4" y2="67.2" stroke="#444" stroke-width="0.7"/>
<polygon points="674.7,67.2 683.5,65.3 683.5,69.1" fill="#231f20"/>
<polygon points="730.4,67.2 721.6,69.1 721.6,65.3" fill="#231f20"/>
<line x1="669" y1="83.8" x2="721.2" y2="83.8" stroke="#444" stroke-width="0.7"/>
<polygon points="679.2,83.8 670.4,85.7 670.4,81.9" fill="#231f20"/>
<polygon points="686,83.8 694.8,81.9 694.8,85.7" fill="#231f20"/>
<text x="703.3" y="20.3" font-size="14.3" text-anchor="middle" fill="#231f20">B</text>
<text x="703.3" y="43.3" font-size="14.3" text-anchor="middle" fill="#231f20">b</text>
<text x="704" y="65.4" font-size="14.3" text-anchor="middle" fill="#231f20">Ru</text>
<text x="710.2" y="82.3" font-size="14.3" text-anchor="middle" fill="#231f20">Mu</text>
<line x1="609.3" y1="132.3" x2="659.9" y2="132.3" stroke="#666" stroke-width="0.7"/>
<line x1="609.3" y1="270.3" x2="659.9" y2="270.3" stroke="#666" stroke-width="0.7"/>
<line x1="614.8" y1="132.3" x2="614.8" y2="270.3" stroke="#555" stroke-width="0.65"/>
<polygon points="614.8,132.3 616.7,141.1 612.9,141.1" fill="#231f20"/>
<polygon points="614.8,270.3 612.9,261.5 616.7,261.5" fill="#231f20"/>
<line x1="638" y1="132.3" x2="638" y2="214.4" stroke="#333" stroke-width="0.7"/>
<polygon points="638,132.3 639.9,141.1 636.1,141.1" fill="#231f20"/>
<polygon points="638,214.4 636.1,205.6 639.9,205.6" fill="#231f20"/>
<line x1="638" y1="214.4" x2="638" y2="270.3" stroke="#333" stroke-width="0.7"/>
<polygon points="638,214.4 639.9,223.2 636.1,223.2" fill="#231f20"/>
<polygon points="638,270.3 636.1,261.5 639.9,261.5" fill="#231f20"/>
<text x="612.2" y="197.8" font-size="14.3" text-anchor="middle" fill="#231f20" transform="rotate(-90 612.2 197.8)">h</text>
<text x="635.4" y="172.5" font-size="14.3" text-anchor="middle" fill="#231f20" transform="rotate(-90 635.4 172.5)">h2</text>
<text x="635.4" y="241" font-size="14.3" text-anchor="middle" fill="#231f20" transform="rotate(-90 635.4 241)">h1</text>
<line x1="754.6" y1="171.4" x2="782" y2="171.4" stroke="#777" stroke-width="0.7"/>
<line x1="754.6" y1="257.3" x2="783" y2="257.3" stroke="#333" stroke-width="0.9"/>
<line x1="777.7" y1="171.4" x2="777.7" y2="257.3" stroke="#555" stroke-width="0.65"/>
<polygon points="777.7,171.4 779.6,180.2 775.8,180.2" fill="#231f20"/>
<polygon points="777.7,257.3 775.8,248.5 779.6,248.5" fill="#231f20"/>
<text x="775.6" y="214.4" font-size="14.3" text-anchor="middle" fill="#231f20" transform="rotate(-90 775.6 214.4)">G</text>
<line x1="743" y1="266.1" x2="805" y2="266.1" stroke="#8a8a8a" stroke-width="0.8"/>
<line x1="743" y1="275.3" x2="805" y2="275.3" stroke="#8a8a8a" stroke-width="0.8"/>
<line x1="801.1" y1="232.7" x2="801.1" y2="290" stroke="#666" stroke-width="0.7"/>
<polygon points="801.1,266.1 799.2,257.3 803,257.3" fill="#231f20"/>
<polygon points="801.1,275.3 803,284.1 799.2,284.1" fill="#231f20"/>
<text x="798.5" y="239.4" font-size="14.3" text-anchor="middle" fill="#231f20" transform="rotate(-90 798.5 239.4)">f</text>
<line x1="650.1" y1="236.8" x2="650.1" y2="350" stroke="#555" stroke-width="0.9"/>
<line x1="652.7" y1="258.5" x2="652.7" y2="328" stroke="#666" stroke-width="0.9"/>
<line x1="754.6" y1="257.4" x2="754.6" y2="350" stroke="#666" stroke-width="0.8"/>
<line x1="626" y1="322.7" x2="702" y2="322.7" stroke="#444" stroke-width="0.7"/>
<polygon points="650.4,322.7 641.6,324.6 641.6,320.8" fill="#231f20"/>
<polygon points="652.6,322.7 661.4,320.8 661.4,324.6" fill="#231f20"/>
<polygon points="702.05,322.7 693.25,324.6 693.25,320.8" fill="#231f20"/>
<text x="633.8" y="321" font-size="14.3" text-anchor="middle" fill="#231f20">X</text>
<text x="677" y="318.3" font-size="14.3" text-anchor="middle" fill="#231f20">Pp</text>
<line x1="650.1" y1="344.7" x2="702.35" y2="344.7" stroke="#444" stroke-width="0.7"/>
<polygon points="650.1,344.7 658.9,342.8 658.9,346.6" fill="#231f20"/>
<polygon points="702.35,344.7 693.55,346.6 693.55,342.8" fill="#231f20"/>
<line x1="702.35" y1="344.7" x2="754.6" y2="344.7" stroke="#444" stroke-width="0.7"/>
<polygon points="702.35,344.7 711.15,342.8 711.15,346.6" fill="#231f20"/>
<polygon points="754.6,344.7 745.8,346.6 745.8,342.8" fill="#231f20"/>
<line x1="702.35" y1="308" x2="702.35" y2="350" stroke="#555" stroke-width="0.8"/>
<text x="676.2" y="342.6" font-size="14.3" text-anchor="middle" fill="#231f20">C</text>
<text x="727.8" y="342.6" font-size="14.3" text-anchor="middle" fill="#231f20">C</text>
</g>
<text transform="translate(22.9,179.3) scale(1,1.06)" font-size="28" font-weight="bold" stroke-width="0.35"><tspan fill="#9d9fa2" stroke="#9d9fa2">X</tspan><tspan fill="#1a1a1a" stroke="#1a1a1a">A</tspan></text>
<g transform="translate(0,431.2)">
<line x1="219.5" y1="17.6" x2="219.5" y2="91" stroke="#8a8a8a" stroke-width="0.8"/>
<line x1="303.3" y1="18.5" x2="303.3" y2="74" stroke="#8a8a8a" stroke-width="0.7" stroke-dasharray="14 1.6 2 1.6"/>
<line x1="249.6" y1="41.2" x2="249.6" y2="210" stroke="#9a9a9a" stroke-width="1"/>
<line x1="357.5" y1="41.2" x2="357.5" y2="210" stroke="#9a9a9a" stroke-width="1"/>
<path d="M226.4,94.55 L266,94.55 L269.4,97.7 L338.5,97.7 L341,94.55 L380.9,94.55 L384.6,99.2 L385.3,293.6 L381.2,298 L341.3,298 L338.2,294.4 L269.6,294.4 L266.4,298 L226.6,298 L219.9,291.2 L219.9,251.9 L222.9,248.5 L223.3,172.6 L220.1,170.4 L220.1,100.6 Z" fill="#ffffff" stroke="none" stroke-width="0" stroke-linejoin="miter"/>
<path d="M269.6,294.4 L266.4,298 L226.6,298 L219.9,291.2 L219.9,251.9 L222.9,248.5 L223.3,172.6 L220.1,170.4 L220.1,100.6 L226.4,94.55 L266,94.55 L269.4,97.7 L338.5,97.7 L341,94.55 L380.9,94.55 L384.6,99.2 L385.3,293.6 L381.2,298 L341.3,298 L338.2,294.4" fill="none" stroke="#231f20" stroke-width="1.6" stroke-linejoin="miter"/>
<line x1="269.6" y1="294.4" x2="338.2" y2="294.4" stroke="#333" stroke-width="0.9"/>
<line x1="384.3" y1="99.5" x2="384.3" y2="228.6" stroke="#4a4a4a" stroke-width="2.6"/>
<line x1="385.5" y1="99.5" x2="385.5" y2="228.6" stroke="#231f20" stroke-width="1.1"/>
<rect x="383.9" y="233.4" width="2.7" height="11.7" fill="#d9d9d9" stroke="#231f20" stroke-width="0.6"/>
<rect x="220.2" y="183.6" width="3" height="11.7" fill="#d9d9d9" stroke="#231f20" stroke-width="0.6"/>
<line x1="226.6" y1="172.6" x2="226.6" y2="248.6" stroke="#231f20" stroke-width="0.8"/>
<path d="M220.1,170.4 L229.1,170.4 M223.3,172.6 L226.6,172.6 L229.1,170.4" fill="none" stroke="#231f20" stroke-width="0.8" stroke-linejoin="round"/>
<path d="M219.9,251.9 L229.2,251.9 M222.9,249.4 L226.6,249.4 L229.2,251.9" fill="none" stroke="#231f20" stroke-width="0.8" stroke-linejoin="round"/>
<line x1="380.2" y1="189.6" x2="380.2" y2="252" stroke="#231f20" stroke-width="0.8"/>
<line x1="383.1" y1="189.6" x2="383.1" y2="252" stroke="#231f20" stroke-width="1.05"/>
<line x1="380.2" y1="189.6" x2="383.1" y2="189.6" stroke="#231f20" stroke-width="0.8"/>
<line x1="377.5" y1="251.9" x2="385.3" y2="251.9" stroke="#231f20" stroke-width="0.8"/>
<line x1="377.5" y1="261" x2="385.3" y2="261" stroke="#231f20" stroke-width="0.8"/>
<line x1="220.1" y1="161.8" x2="229" y2="161.8" stroke="#231f20" stroke-width="0.8"/>
<line x1="219.9" y1="261.4" x2="229.2" y2="261.4" stroke="#231f20" stroke-width="0.8"/>
<line x1="220.8" y1="127.9" x2="229" y2="127.9" stroke="#231f20" stroke-width="1.2" stroke-dasharray="3.3 1.6"/>
<line x1="220.8" y1="136.9" x2="229" y2="136.9" stroke="#231f20" stroke-width="1.2" stroke-dasharray="3.3 1.6"/>
<line x1="229.3" y1="107" x2="229.3" y2="170.4" stroke="#333" stroke-width="1.1"/>
<line x1="214.7" y1="132.3" x2="235.8" y2="132.3" stroke="#231f20" stroke-width="0.5" stroke-dasharray="5 1.5 1.5 1.5"/>
<line x1="220.8" y1="265.6" x2="229.2" y2="265.6" stroke="#231f20" stroke-width="1.2" stroke-dasharray="3.3 1.6"/>
<line x1="220.8" y1="275" x2="229.2" y2="275" stroke="#231f20" stroke-width="1.2" stroke-dasharray="3.3 1.6"/>
<line x1="229.3" y1="251.9" x2="229.3" y2="286.4" stroke="#333" stroke-width="1.1"/>
<line x1="214.5" y1="270.3" x2="236" y2="270.3" stroke="#231f20" stroke-width="0.5" stroke-dasharray="5 1.5 1.5 1.5"/>
<line x1="266" y1="100.8" x2="341.4" y2="100.8" stroke="#333" stroke-width="1.2"/>
<rect x="322.2" y="94.6" width="11.3" height="3.2" fill="#ffffff" stroke="#231f20" stroke-width="0.8"/>
<line x1="269.4" y1="291.2" x2="338.4" y2="291.2" stroke="#231f20" stroke-width="1.5"/>
<rect x="272.1" y="294.5" width="12.6" height="2.7" fill="#ffffff" stroke="#231f20" stroke-width="0.8"/>
<line x1="256.3" y1="94.55" x2="256.3" y2="104.1" stroke="#231f20" stroke-width="1.05"/>
<line x1="266" y1="94.55" x2="266" y2="104.1" stroke="#231f20" stroke-width="1.05"/>
<line x1="341.4" y1="94.55" x2="341.4" y2="104.1" stroke="#231f20" stroke-width="1.05"/>
<line x1="350" y1="94.55" x2="350" y2="104.1" stroke="#231f20" stroke-width="1.05"/>
<line x1="256.6" y1="289.1" x2="256.6" y2="298" stroke="#231f20" stroke-width="1.05"/>
<line x1="265.6" y1="289.1" x2="265.6" y2="298" stroke="#231f20" stroke-width="0.8"/>
<line x1="350.4" y1="289.1" x2="350.4" y2="298" stroke="#231f20" stroke-width="1.05"/>
<line x1="341.8" y1="289.1" x2="341.8" y2="298" stroke="#231f20" stroke-width="0.8"/>
<line x1="242.4" y1="289.6" x2="242.4" y2="297.8" stroke="#231f20" stroke-width="1.1" stroke-dasharray="2.6 1.4"/>
<line x1="253.3" y1="289.6" x2="253.3" y2="297.8" stroke="#231f20" stroke-width="1.1" stroke-dasharray="2.6 1.4"/>
<line x1="353.9" y1="289.6" x2="353.9" y2="297.8" stroke="#231f20" stroke-width="1.1" stroke-dasharray="2.6 1.4"/>
<line x1="363.6" y1="289.6" x2="363.6" y2="297.8" stroke="#231f20" stroke-width="1.1" stroke-dasharray="2.6 1.4"/>
<path d="M229.3,179.2 L229.3,106.6 Q229.3,104.1 231.8,104.1 L267.5,104.1 Q269.5,104.1 269.5,106.1 L269.5,146" fill="none" stroke="#231f20" stroke-width="0.8" stroke-linejoin="round"/>
<path d="M337.1,146.5 L337.1,106.1 Q337.1,104.1 339.1,104.1 L375.6,104.1 Q377.6,104.1 377.6,106.1 L377.5,176.6 L380.2,179.8 L380.2,189.6" fill="none" stroke="#231f20" stroke-width="0.8" stroke-linejoin="round"/>
<path d="M229.4,251 Q229.4,248.9 231.5,248.9 M229.4,251 L229.4,286.3 Q229.4,288.8 231.9,288.8 L267.4,288.8 Q269.4,288.8 269.4,286.8 L269.4,281.3" fill="none" stroke="#231f20" stroke-width="0.8" stroke-linejoin="round"/>
<path d="M337.4,278.6 L337.4,286.6 Q337.4,288.6 339.4,288.6 L375.5,288.6 Q377.5,288.6 377.5,286.6 L377.5,251 Q377.5,248.9 375.5,248.9 L367.8,248.9" fill="none" stroke="#231f20" stroke-width="0.8" stroke-linejoin="round"/>
<path d="M226.8,179.7 L238.4,179.7 Q239.6,179.7 240.3,178.7 A72.5,72.5 0 0 1 269.5,150.3 L269.5,144.6 Q269.7,141.3 274.8,141.3 L331.8,141.3 Q336.9,141.3 337.1,144.6 L337.1,150.3 A72.5,72.5 0 0 1 366.3,178.7 Q367,179.7 368.2,179.7 L374.4,179.7 Q376.4,179.7 376.4,181.7 L376.4,246.9 Q376.4,248.9 374.4,248.9 L368.2,248.9 Q367,248.9 366.4,249.9 A72.5,72.5 0 0 1 337.4,278.5 L337.4,282.6 Q337.2,287.3 331.8,287.3 L275,287.3 Q269.6,287.3 269.4,282.6 L269.4,278.5 A72.5,72.5 0 0 1 240.2,249.9 Q239.6,248.9 238.4,248.9 L226.8,248.9" fill="none" stroke="#231f20" stroke-width="1" stroke-linejoin="round"/>
<line x1="276" y1="141.3" x2="330.6" y2="141.3" stroke="#231f20" stroke-width="1.3"/>
<path d="M233.4,179.7 Q230.2,179.7 230.2,183 L230.2,245.6 Q230.2,248.9 233.4,248.9" fill="none" stroke="#231f20" stroke-width="0.8" stroke-linejoin="round"/>
<line x1="358.2" y1="127" x2="377.6" y2="127" stroke="#231f20" stroke-width="1.05"/>
<line x1="358.2" y1="157.3" x2="377.6" y2="157.3" stroke="#231f20" stroke-width="1.05"/>
<path d="M358.2,127 Q350.5,142.2 358.2,157.3" fill="none" stroke="#231f20" stroke-width="0.8" stroke-linejoin="round"/>
<path d="M377.6,112 L368.3,112 Q365.7,112 365.7,114.6 L365.7,121.1 Q365.7,123.7 368.3,123.7 L377.6,123.7" fill="none" stroke="#231f20" stroke-width="1.05" stroke-linejoin="round"/>
<line x1="368.2" y1="112" x2="368.2" y2="123.7" stroke="#231f20" stroke-width="0.8"/>
<path d="M377.6,160.2 L368.3,160.2 Q365.7,160.2 365.7,162.8 L365.7,170 Q365.7,172.6 368.3,172.6 L377.6,172.6" fill="none" stroke="#231f20" stroke-width="1.05" stroke-linejoin="round"/>
<line x1="368.2" y1="160.2" x2="368.2" y2="172.6" stroke="#231f20" stroke-width="0.8"/>
<rect x="377.6" y="162.9" width="6" height="8.2" fill="#ffffff" stroke="#231f20" stroke-width="0.8"/>
<polygon points="369.22,214.4 369.5,216.57 369.28,218.72 368.62,220.83 367.82,222.89 367.2,224.95 366.93,227.06 366.95,229.24 366.98,231.46 366.68,233.63 365.91,235.65 364.73,237.52 363.42,239.3 362.29,241.13 361.49,243.1 360.94,245.21 360.39,247.36 359.55,249.38 358.28,251.13 356.65,252.63 354.93,254.02 353.36,255.49 352.08,257.18 351.01,259.08 349.91,261.01 348.58,262.74 346.9,264.11 344.94,265.14 342.92,266.03 341.02,267.04 339.35,268.35 337.82,269.91 336.26,271.49 334.52,272.82 332.54,273.7 330.39,274.19 328.2,274.52 326.11,275.01 324.16,275.84 322.27,276.95 320.36,278.08 318.34,278.91 316.2,279.25 313.99,279.16 311.79,278.92 309.65,278.85 307.54,279.14 305.44,279.73 303.3,280.32 301.13,280.6 298.98,280.38 296.87,279.72 294.81,278.92 292.75,278.3 290.64,278.03 288.46,278.05 286.24,278.08 284.07,277.78 282.05,277.01 280.18,275.83 278.4,274.52 276.57,273.39 274.6,272.59 272.49,272.04 270.34,271.49 268.32,270.65 266.57,269.38 265.07,267.75 263.68,266.03 262.21,264.46 260.52,263.18 258.62,262.11 256.69,261.01 254.96,259.68 253.59,258 252.56,256.04 251.67,254.02 250.66,252.12 249.35,250.45 247.79,248.92 246.21,247.36 244.88,245.62 244,243.64 243.51,241.49 243.18,239.3 242.69,237.21 241.86,235.26 240.75,233.37 239.62,231.46 238.79,229.44 238.45,227.3 238.54,225.09 238.78,222.89 238.85,220.75 238.56,218.64 237.97,216.54 237.38,214.4 237.1,212.23 237.32,210.08 237.98,207.97 238.78,205.91 239.4,203.85 239.67,201.74 239.65,199.56 239.62,197.34 239.92,195.17 240.69,193.15 241.87,191.28 243.18,189.5 244.31,187.67 245.11,185.7 245.66,183.59 246.21,181.44 247.05,179.42 248.32,177.67 249.95,176.17 251.67,174.78 253.24,173.31 254.52,171.62 255.59,169.72 256.69,167.79 258.02,166.06 259.7,164.69 261.66,163.66 263.68,162.77 265.58,161.76 267.25,160.45 268.78,158.89 270.34,157.31 272.08,155.98 274.06,155.1 276.21,154.61 278.4,154.28 280.49,153.79 282.44,152.96 284.33,151.85 286.24,150.72 288.26,149.89 290.4,149.55 292.61,149.64 294.81,149.88 296.95,149.95 299.06,149.66 301.16,149.07 303.3,148.48 305.47,148.2 307.62,148.42 309.73,149.08 311.79,149.88 313.85,150.5 315.96,150.77 318.14,150.75 320.36,150.72 322.53,151.02 324.55,151.79 326.42,152.97 328.2,154.28 330.03,155.41 332,156.21 334.11,156.76 336.26,157.31 338.28,158.15 340.03,159.42 341.53,161.05 342.92,162.77 344.39,164.34 346.08,165.62 347.98,166.69 349.91,167.79 351.64,169.12 353.01,170.8 354.04,172.76 354.93,174.78 355.94,176.68 357.25,178.35 358.81,179.88 360.39,181.44 361.72,183.18 362.6,185.16 363.09,187.31 363.42,189.5 363.91,191.59 364.74,193.54 365.85,195.43 366.98,197.34 367.81,199.36 368.15,201.5 368.06,203.71 367.82,205.91 367.75,208.05 368.04,210.16 368.63,212.26" fill="none" stroke="#231f20" stroke-width="0.85"/>
<circle cx="303.3" cy="214.4" r="54" fill="none" stroke="#231f20" stroke-width="0.5" stroke-dasharray="6.5 1.5 1.5 1.5"/>
<polygon points="348.9,207.7 369,207.7 369,221.1 348.9,221.1" fill="#ffffff" stroke="none"/>
<line x1="348.9" y1="207.7" x2="369" y2="207.7" stroke="#231f20" stroke-width="0.9"/>
<line x1="348.9" y1="221.1" x2="369" y2="221.1" stroke="#231f20" stroke-width="0.9"/>
<circle cx="357.5" cy="214.4" r="3.35" fill="#ffffff" stroke="#231f20" stroke-width="0.95"/>
<circle cx="357.5" cy="214.4" r="2.1" fill="none" stroke="#4a4a4a" stroke-width="0.55"/>
<polygon points="340.28,241.91 353.86,255.48 344.38,264.96 330.81,251.38" fill="#ffffff" stroke="none"/>
<path d="M340.28,241.91 L353.86,255.48 L344.38,264.96 L330.81,251.38" fill="none" stroke="#231f20" stroke-width="1" stroke-linejoin="miter"/>
<circle cx="341.63" cy="252.73" r="3.35" fill="#ffffff" stroke="#231f20" stroke-width="0.95"/>
<circle cx="341.63" cy="252.73" r="2.1" fill="none" stroke="#4a4a4a" stroke-width="0.55"/>
<polygon points="310,260 310,280.1 296.6,280.1 296.6,260" fill="#ffffff" stroke="none"/>
<line x1="310" y1="260" x2="310" y2="280.1" stroke="#231f20" stroke-width="0.9"/>
<line x1="296.6" y1="260" x2="296.6" y2="280.1" stroke="#231f20" stroke-width="1.3"/>
<circle cx="303.3" cy="268.6" r="3.35" fill="#ffffff" stroke="#231f20" stroke-width="0.95"/>
<circle cx="303.3" cy="268.6" r="2.1" fill="none" stroke="#4a4a4a" stroke-width="0.55"/>
<polygon points="275.79,251.38 262.22,264.96 252.74,255.48 266.32,241.91" fill="#ffffff" stroke="none"/>
<path d="M275.79,251.38 L262.22,264.96 L252.74,255.48 L266.32,241.91" fill="none" stroke="#231f20" stroke-width="1" stroke-linejoin="miter"/>
<circle cx="264.97" cy="252.73" r="3.35" fill="#ffffff" stroke="#231f20" stroke-width="0.95"/>
<circle cx="264.97" cy="252.73" r="2.1" fill="none" stroke="#4a4a4a" stroke-width="0.55"/>
<polygon points="257.7,221.1 237.6,221.1 237.6,207.7 257.7,207.7" fill="#ffffff" stroke="none"/>
<line x1="257.7" y1="221.1" x2="237.6" y2="221.1" stroke="#231f20" stroke-width="0.9"/>
<line x1="257.7" y1="207.7" x2="237.6" y2="207.7" stroke="#231f20" stroke-width="0.9"/>
<circle cx="249.1" cy="214.4" r="3.35" fill="#ffffff" stroke="#231f20" stroke-width="0.95"/>
<circle cx="249.1" cy="214.4" r="2.1" fill="none" stroke="#4a4a4a" stroke-width="0.55"/>
<polygon points="266.32,186.89 252.74,173.32 262.22,163.84 275.79,177.42" fill="#ffffff" stroke="none"/>
<path d="M266.32,186.89 L252.74,173.32 L262.22,163.84 L275.79,177.42" fill="none" stroke="#231f20" stroke-width="1" stroke-linejoin="miter"/>
<circle cx="264.97" cy="176.07" r="3.35" fill="#ffffff" stroke="#231f20" stroke-width="0.95"/>
<circle cx="264.97" cy="176.07" r="2.1" fill="none" stroke="#4a4a4a" stroke-width="0.55"/>
<polygon points="296.6,168.8 296.6,148.7 310,148.7 310,168.8" fill="#ffffff" stroke="none"/>
<line x1="296.6" y1="168.8" x2="296.6" y2="148.7" stroke="#231f20" stroke-width="1.3"/>
<line x1="310" y1="168.8" x2="310" y2="148.7" stroke="#231f20" stroke-width="0.9"/>
<circle cx="303.3" cy="160.2" r="3.35" fill="#ffffff" stroke="#231f20" stroke-width="0.95"/>
<circle cx="303.3" cy="160.2" r="2.1" fill="none" stroke="#4a4a4a" stroke-width="0.55"/>
<polygon points="330.81,177.42 344.38,163.84 353.86,173.32 340.28,186.89" fill="#ffffff" stroke="none"/>
<path d="M330.81,177.42 L344.38,163.84 L353.86,173.32 L340.28,186.89" fill="none" stroke="#231f20" stroke-width="1" stroke-linejoin="miter"/>
<circle cx="341.63" cy="176.07" r="3.35" fill="#ffffff" stroke="#231f20" stroke-width="0.95"/>
<circle cx="341.63" cy="176.07" r="2.1" fill="none" stroke="#4a4a4a" stroke-width="0.55"/>
<path d="M349.38,221.37 A46.6,46.6 0 0 1 340.81,242.05" fill="none" stroke="#231f20" stroke-width="2.9" stroke-linejoin="round"/>
<path d="M349.3,221.85 A46.6,46.6 0 0 1 341.1,241.66" fill="none" stroke="#ffffff" stroke-width="1.5" stroke-linejoin="round"/>
<path d="M349.3,221.85 A46.6,46.6 0 0 1 341.1,241.66" fill="none" stroke="#6b6b6b" stroke-width="1.5" stroke-linejoin="round" stroke-dasharray="0.7 1.3"/>
<path d="M330.95,251.91 A46.6,46.6 0 0 1 310.27,260.48" fill="none" stroke="#231f20" stroke-width="2.9" stroke-linejoin="round"/>
<path d="M330.56,252.2 A46.6,46.6 0 0 1 310.75,260.4" fill="none" stroke="#ffffff" stroke-width="1.5" stroke-linejoin="round"/>
<path d="M330.56,252.2 A46.6,46.6 0 0 1 310.75,260.4" fill="none" stroke="#6b6b6b" stroke-width="1.5" stroke-linejoin="round" stroke-dasharray="0.7 1.3"/>
<path d="M296.33,260.48 A46.6,46.6 0 0 1 275.65,251.91" fill="none" stroke="#231f20" stroke-width="2.9" stroke-linejoin="round"/>
<path d="M295.85,260.4 A46.6,46.6 0 0 1 276.04,252.2" fill="none" stroke="#ffffff" stroke-width="1.5" stroke-linejoin="round"/>
<path d="M295.85,260.4 A46.6,46.6 0 0 1 276.04,252.2" fill="none" stroke="#6b6b6b" stroke-width="1.5" stroke-linejoin="round" stroke-dasharray="0.7 1.3"/>
<path d="M265.79,242.05 A46.6,46.6 0 0 1 257.22,221.37" fill="none" stroke="#231f20" stroke-width="2.9" stroke-linejoin="round"/>
<path d="M265.5,241.66 A46.6,46.6 0 0 1 257.3,221.85" fill="none" stroke="#ffffff" stroke-width="1.5" stroke-linejoin="round"/>
<path d="M265.5,241.66 A46.6,46.6 0 0 1 257.3,221.85" fill="none" stroke="#6b6b6b" stroke-width="1.5" stroke-linejoin="round" stroke-dasharray="0.7 1.3"/>
<path d="M257.22,207.43 A46.6,46.6 0 0 1 265.79,186.75" fill="none" stroke="#231f20" stroke-width="2.9" stroke-linejoin="round"/>
<path d="M257.3,206.95 A46.6,46.6 0 0 1 265.5,187.14" fill="none" stroke="#ffffff" stroke-width="1.5" stroke-linejoin="round"/>
<path d="M257.3,206.95 A46.6,46.6 0 0 1 265.5,187.14" fill="none" stroke="#6b6b6b" stroke-width="1.5" stroke-linejoin="round" stroke-dasharray="0.7 1.3"/>
<path d="M275.65,176.89 A46.6,46.6 0 0 1 296.33,168.32" fill="none" stroke="#231f20" stroke-width="2.9" stroke-linejoin="round"/>
<path d="M276.04,176.6 A46.6,46.6 0 0 1 295.85,168.4" fill="none" stroke="#ffffff" stroke-width="1.5" stroke-linejoin="round"/>
<path d="M276.04,176.6 A46.6,46.6 0 0 1 295.85,168.4" fill="none" stroke="#6b6b6b" stroke-width="1.5" stroke-linejoin="round" stroke-dasharray="0.7 1.3"/>
<path d="M310.27,168.32 A46.6,46.6 0 0 1 330.95,176.89" fill="none" stroke="#231f20" stroke-width="2.9" stroke-linejoin="round"/>
<path d="M310.75,168.4 A46.6,46.6 0 0 1 330.56,176.6" fill="none" stroke="#ffffff" stroke-width="1.5" stroke-linejoin="round"/>
<path d="M310.75,168.4 A46.6,46.6 0 0 1 330.56,176.6" fill="none" stroke="#6b6b6b" stroke-width="1.5" stroke-linejoin="round" stroke-dasharray="0.7 1.3"/>
<path d="M340.81,186.75 A46.6,46.6 0 0 1 349.38,207.43" fill="none" stroke="#231f20" stroke-width="2.9" stroke-linejoin="round"/>
<path d="M341.1,187.14 A46.6,46.6 0 0 1 349.3,206.95" fill="none" stroke="#ffffff" stroke-width="1.5" stroke-linejoin="round"/>
<path d="M341.1,187.14 A46.6,46.6 0 0 1 349.3,206.95" fill="none" stroke="#6b6b6b" stroke-width="1.5" stroke-linejoin="round" stroke-dasharray="0.7 1.3"/>
<circle cx="303.3" cy="214.4" r="42.4" fill="#ffffff" stroke="#231f20" stroke-width="0.95"/>
<circle cx="303.3" cy="214.4" r="38" fill="none" stroke="#231f20" stroke-width="0.95"/>
<circle cx="303.3" cy="214.4" r="28.7" fill="none" stroke="#231f20" stroke-width="0.95"/>
<circle cx="303.3" cy="214.4" r="22.2" fill="none" stroke="#231f20" stroke-width="0.95"/>
<path d="M299.4,201.11 L299.4,198.1 L307.2,198.1 L307.2,201.11 A13.85,13.85 0 1 1 299.4,201.11 Z" fill="#ffffff" stroke="#231f20" stroke-width="1.05" stroke-linejoin="round"/>
<circle cx="355.4" cy="193.4" r="6.8" fill="none" stroke="#231f20" stroke-width="0.55"/>
<line x1="249.6" y1="41.2" x2="249.6" y2="209" stroke="#919191" stroke-width="1.1"/>
<line x1="357.5" y1="41.2" x2="357.5" y2="209" stroke="#919191" stroke-width="1.1"/>
<line x1="300.1" y1="62" x2="300.1" y2="156.6" stroke="#6e6e6e" stroke-width="0.9"/>
<line x1="306.7" y1="62" x2="306.7" y2="156.6" stroke="#6e6e6e" stroke-width="0.9"/>
<line x1="219" y1="214.4" x2="394" y2="214.4" stroke="#4a4a4a" stroke-width="0.75" stroke-dasharray="17 1.6 2 1.6"/>
<line x1="303.3" y1="73" x2="303.3" y2="305.5" stroke="#231f20" stroke-width="0.5" stroke-dasharray="9 1.6 1.8 1.6"/>
<line x1="198.6" y1="142.3" x2="383" y2="142.3" stroke="#555" stroke-width="0.5" stroke-dasharray="10 1.6 2 1.6"/>
<line x1="248.3" y1="282" x2="248.3" y2="327" stroke="#444" stroke-width="0.7" stroke-dasharray="7 1.6 1.8 1.6"/>
<line x1="358.8" y1="282" x2="358.8" y2="327" stroke="#444" stroke-width="0.7" stroke-dasharray="7 1.6 1.8 1.6"/>
<path d="M385.9,111.5 L439.1,107.1 L439.8,104.4 L445.7,97.9 L449.3,97.9 L449.3,186.7 L445.7,186.7 L439.8,180.2 L439.1,177.5 L385.9,173.1 Z" fill="url(#gf)" stroke="none" stroke-width="0" stroke-linejoin="round"/>
<path d="M439.1,107.1 L439.8,104.4 L445.7,97.9 L449.3,97.9 L449.3,112 Q442,111.5 439.1,107.1 Z" fill="#45c1f1" stroke="none" stroke-width="0" stroke-linejoin="round"/>
<path d="M439.1,177.5 L439.8,180.2 L445.7,186.7 L449.3,186.7 L449.3,172.6 Q442,173.1 439.1,177.5 Z" fill="#45c1f1" stroke="none" stroke-width="0" stroke-linejoin="round"/>
<path d="M385.9,111.5 L439.1,107.1 L439.8,104.4 L445.7,97.9 L449.3,97.9" fill="none" stroke="#231f20" stroke-width="1.4" stroke-linejoin="miter"/>
<path d="M385.9,173.1 L439.1,177.5 L439.8,180.2 L445.7,186.7 L449.3,186.7" fill="none" stroke="#231f20" stroke-width="1.4" stroke-linejoin="miter"/>
<line x1="390.5" y1="111.5" x2="390.5" y2="173.1" stroke="#231f20" stroke-width="0.9"/>
<line x1="390.5" y1="118.1" x2="449" y2="116.4" stroke="#231f20" stroke-width="0.7"/>
<line x1="390.5" y1="166.5" x2="449" y2="168.2" stroke="#231f20" stroke-width="0.7"/>
<path d="M439.5,107.2 Q446,107.6 449,105.5" fill="none" stroke="#231f20" stroke-width="0.6" stroke-linejoin="round"/>
<path d="M439.5,177.4 Q446,177 449,179.1" fill="none" stroke="#231f20" stroke-width="0.6" stroke-linejoin="round"/>
<rect x="439.9" y="140.4" width="8.9" height="3.9" fill="#ffffff" stroke="#231f20" stroke-width="0.8"/>
<line x1="446.3" y1="140.4" x2="446.3" y2="144.3" stroke="#231f20" stroke-width="0.6"/>
<rect x="449.4" y="76.6" width="8.7" height="131.4" fill="url(#gp)" stroke="none" stroke-width="0"/>
<path d="M449.4,208 L449.4,76.6 L458.1,76.6 L458.1,208 Z" fill="none" stroke="#231f20" stroke-width="1.4" stroke-linejoin="miter"/>
<line x1="383" y1="142.3" x2="428" y2="142.3" stroke="#777" stroke-width="0.5" stroke-dasharray="9 1.6 2 1.6"/>
<line x1="458.2" y1="17.6" x2="458.2" y2="73.5" stroke="#8a8a8a" stroke-width="0.8"/>
<line x1="219.5" y1="24" x2="303.3" y2="24" stroke="#8a8a8a" stroke-width="0.8"/>
<polygon points="219.5,24 228.3,22.1 228.3,25.9" fill="#231f20"/>
<polygon points="303.3,24 294.5,25.9 294.5,22.1" fill="#231f20"/>
<line x1="303.3" y1="24" x2="458.2" y2="24" stroke="#8a8a8a" stroke-width="0.8"/>
<polygon points="303.3,24 312.1,22.1 312.1,25.9" fill="#231f20"/>
<polygon points="458.2,24 449.4,25.9 449.4,22.1" fill="#231f20"/>
<text x="261.5" y="22" font-size="14.3" text-anchor="middle" fill="#231f20">E</text>
<text x="385.4" y="22" font-size="14.3" text-anchor="middle" fill="#231f20">Kf</text>
<line x1="462" y1="76.5" x2="487.5" y2="76.5" stroke="#8a8a8a" stroke-width="0.8"/>
<line x1="462" y1="207.7" x2="487.5" y2="207.7" stroke="#8a8a8a" stroke-width="0.8"/>
<line x1="483.3" y1="76.5" x2="483.3" y2="207.7" stroke="#555" stroke-width="0.6"/>
<polygon points="483.3,76.5 485.2,85.3 481.4,85.3" fill="#231f20"/>
<polygon points="483.3,207.7 481.4,198.9 485.2,198.9" fill="#231f20"/>
<text x="480.3" y="142.3" font-size="14.3" text-anchor="middle" fill="#231f20" transform="rotate(-90 480.3 142.3)">Y</text>
<line x1="249.6" y1="47.2" x2="357.5" y2="47.2" stroke="#8a8a8a" stroke-width="0.8"/>
<polygon points="249.6,47.2 258.4,45.3 258.4,49.1" fill="#231f20"/>
<polygon points="357.5,47.2 348.7,49.1 348.7,45.3" fill="#231f20"/>
<text x="303.6" y="45.5" font-size="14.3" text-anchor="middle" fill="#231f20">R</text>
<line x1="291.5" y1="68.6" x2="337" y2="68.6" stroke="#8a8a8a" stroke-width="0.8"/>
<polygon points="300.1,68.6 291.3,70.5 291.3,66.7" fill="#231f20"/>
<polygon points="306.7,68.6 315.5,66.7 315.5,70.5" fill="#231f20"/>
<text x="328.5" y="66.7" font-size="14.3" text-anchor="middle" fill="#231f20">M</text>
<line x1="155" y1="94.3" x2="223.4" y2="94.3" stroke="#666" stroke-width="0.7"/>
<line x1="155" y1="297.8" x2="223.4" y2="297.8" stroke="#666" stroke-width="0.7"/>
<line x1="177" y1="214.5" x2="215" y2="214.5" stroke="#444" stroke-width="0.7"/>
<line x1="160.2" y1="94.3" x2="160.2" y2="297.8" stroke="#444" stroke-width="0.65"/>
<polygon points="160.2,94.3 162.1,103.1 158.3,103.1" fill="#231f20"/>
<polygon points="160.2,297.8 158.3,289 162.1,289" fill="#231f20"/>
<line x1="182.8" y1="94.3" x2="182.8" y2="214.5" stroke="#8a8a8a" stroke-width="0.8"/>
<polygon points="182.8,94.3 184.7,103.1 180.9,103.1" fill="#231f20"/>
<polygon points="182.8,214.5 180.9,205.7 184.7,205.7" fill="#231f20"/>
<line x1="182.8" y1="214.5" x2="182.8" y2="297.8" stroke="#8a8a8a" stroke-width="0.8"/>
<polygon points="182.8,214.5 184.7,223.3 180.9,223.3" fill="#231f20"/>
<polygon points="182.8,297.8 180.9,289 184.7,289" fill="#231f20"/>
<line x1="205.3" y1="142.3" x2="205.3" y2="214.5" stroke="#444" stroke-width="0.65"/>
<polygon points="205.3,142.3 207.2,151.1 203.4,151.1" fill="#231f20"/>
<polygon points="205.3,214.5 203.4,205.7 207.2,205.7" fill="#231f20"/>
<text x="157" y="196.8" font-size="14.3" text-anchor="middle" fill="#231f20" transform="rotate(-90 157 196.8)">H</text>
<text x="178.2" y="153.4" font-size="14.3" text-anchor="middle" fill="#231f20" transform="rotate(-90 178.2 153.4)">H2</text>
<text x="178.2" y="254.6" font-size="14.3" text-anchor="middle" fill="#231f20" transform="rotate(-90 178.2 254.6)">H1</text>
<text x="202.2" y="178.7" font-size="14.3" text-anchor="middle" fill="#231f20" transform="rotate(-90 202.2 178.7)">I</text>
<line x1="199.3" y1="288.8" x2="227.8" y2="288.8" stroke="#555" stroke-width="0.7"/>
<line x1="204" y1="280" x2="204" y2="328" stroke="#666" stroke-width="0.7"/>
<polygon points="204,288.8 202.1,280 205.9,280" fill="#231f20"/>
<polygon points="204,297.8 205.9,306.6 202.1,306.6" fill="#231f20"/>
<text x="202.2" y="318.8" font-size="14.3" text-anchor="middle" fill="#231f20" transform="rotate(-90 202.2 318.8)">S</text>
<line x1="219.6" y1="299" x2="219.6" y2="350" stroke="#8a8a8a" stroke-width="0.8"/>
<line x1="385" y1="299" x2="385" y2="350" stroke="#8a8a8a" stroke-width="0.8"/>
<line x1="248.3" y1="322.3" x2="358.8" y2="322.3" stroke="#8a8a8a" stroke-width="0.8"/>
<polygon points="248.3,322.3 257.1,320.4 257.1,324.2" fill="#231f20"/>
<polygon points="358.8,322.3 350,324.2 350,320.4" fill="#231f20"/>
<line x1="219.6" y1="344.8" x2="385" y2="344.8" stroke="#8a8a8a" stroke-width="0.8"/>
<polygon points="219.6,344.8 228.4,342.9 228.4,346.7" fill="#231f20"/>
<polygon points="385,344.8 376.2,346.7 376.2,342.9" fill="#231f20"/>
<text x="302.2" y="320.6" font-size="14.3" text-anchor="middle" fill="#231f20">a</text>
<text x="303.2" y="341.8" font-size="14.3" text-anchor="middle" fill="#231f20">A</text>
</g>
<g transform="translate(0.6,431.2)">
<circle cx="702.35" cy="142.3" r="65.6" fill="none" stroke="#231f20" stroke-width="0.7"/>
<path d="M655.6,94.2 L749.1,94.2 L749.1,298.1 L655.6,298.1 Z" fill="#ffffff" stroke="none" stroke-width="0" stroke-linejoin="round"/>
<path d="M650,171 L754.7,171 L754.7,258 L650,258 Z" fill="#ffffff" stroke="none" stroke-width="0" stroke-linejoin="round"/>
<path d="M653,148 L751.7,148 L751.7,171 L653,171 Z" fill="#ffffff" stroke="none" stroke-width="0" stroke-linejoin="round"/>
<path d="M655.6,148 L655.6,94.2 L749.1,94.2 L749.1,148" fill="none" stroke="#231f20" stroke-width="1.3" stroke-linejoin="miter"/>
<line x1="655.6" y1="101.2" x2="749.1" y2="101.2" stroke="#231f20" stroke-width="1.25"/>
<path d="M655.6,279.5 L655.6,298.1 L749.1,298.1 L749.1,279.5" fill="none" stroke="#231f20" stroke-width="1.4" stroke-linejoin="miter"/>
<line x1="655.6" y1="291.9" x2="749.1" y2="291.9" stroke="#231f20" stroke-width="1"/>
<line x1="654.2" y1="148" x2="654.2" y2="171.4" stroke="#2a2a2a" stroke-width="2"/>
<line x1="652.8" y1="171.4" x2="652.8" y2="193.6" stroke="#333" stroke-width="2.6"/>
<line x1="652.5" y1="193.6" x2="652.5" y2="233.9" stroke="#6a6a6a" stroke-width="3.4"/>
<line x1="650.7" y1="193.6" x2="650.7" y2="233.9" stroke="#231f20" stroke-width="1.5"/>
<line x1="653.2" y1="233.9" x2="653.2" y2="258" stroke="#444" stroke-width="1.8"/>
<line x1="654.3" y1="258" x2="654.3" y2="279.2" stroke="#4a4a4a" stroke-width="2.4"/>
<line x1="654.7" y1="162" x2="654.7" y2="258" stroke="#231f20" stroke-width="0.7"/>
<line x1="655.6" y1="148" x2="655.6" y2="162.6" stroke="#231f20" stroke-width="1"/>
<line x1="654.8" y1="162.6" x2="664.9" y2="171.1" stroke="#231f20" stroke-width="0.8"/>
<line x1="664.9" y1="251.6" x2="655" y2="261.2" stroke="#231f20" stroke-width="0.8"/>
<line x1="664.9" y1="171.2" x2="664.9" y2="251.8" stroke="#6a6a6a" stroke-width="1.2"/>
<path d="M664.9,180.9 Q663,186 659.6,186.2 L654.7,186.2" fill="none" stroke="#231f20" stroke-width="0.85" stroke-linejoin="round"/>
<path d="M654.7,241.5 L659.3,241.5 Q662,242 664.9,247.5" fill="none" stroke="#231f20" stroke-width="0.85" stroke-linejoin="round"/>
<line x1="654.7" y1="207.9" x2="664.9" y2="207.9" stroke="#4a4a4a" stroke-width="0.9"/>
<line x1="654.7" y1="220.9" x2="664.9" y2="220.9" stroke="#4a4a4a" stroke-width="0.9"/>
<line x1="654.7" y1="248.1" x2="664.9" y2="248.1" stroke="#231f20" stroke-width="1.1"/>
<line x1="750.9" y1="148" x2="750.9" y2="171.4" stroke="#2a2a2a" stroke-width="2"/>
<line x1="752.3" y1="171.4" x2="752.3" y2="193.6" stroke="#333" stroke-width="2.6"/>
<line x1="752.6" y1="193.6" x2="752.6" y2="233.9" stroke="#6a6a6a" stroke-width="3.4"/>
<line x1="754.4" y1="193.6" x2="754.4" y2="233.9" stroke="#231f20" stroke-width="1.5"/>
<line x1="751.9" y1="233.9" x2="751.9" y2="258" stroke="#444" stroke-width="1.8"/>
<line x1="750.8" y1="258" x2="750.8" y2="279.2" stroke="#4a4a4a" stroke-width="2.4"/>
<line x1="750" y1="162" x2="750" y2="258" stroke="#231f20" stroke-width="0.7"/>
<line x1="749.1" y1="148" x2="749.1" y2="162.6" stroke="#231f20" stroke-width="1"/>
<line x1="749.9" y1="162.6" x2="739.8" y2="171.1" stroke="#231f20" stroke-width="0.8"/>
<line x1="739.8" y1="251.6" x2="749.7" y2="261.2" stroke="#231f20" stroke-width="0.8"/>
<line x1="739.8" y1="171.2" x2="739.8" y2="251.8" stroke="#6a6a6a" stroke-width="1.2"/>
<path d="M739.8,180.9 Q741.7,186 745.1,186.2 L750,186.2" fill="none" stroke="#231f20" stroke-width="0.85" stroke-linejoin="round"/>
<path d="M750,241.5 L745.4,241.5 Q742.7,242 739.8,247.5" fill="none" stroke="#231f20" stroke-width="0.85" stroke-linejoin="round"/>
<line x1="750" y1="207.9" x2="739.8" y2="207.9" stroke="#4a4a4a" stroke-width="0.9"/>
<line x1="750" y1="220.9" x2="739.8" y2="220.9" stroke="#4a4a4a" stroke-width="0.9"/>
<line x1="750" y1="248.1" x2="739.8" y2="248.1" stroke="#231f20" stroke-width="1.1"/>
<rect x="660.4" y="186.2" width="4.2" height="14.2" fill="none" stroke="#231f20" stroke-width="0.6"/>
<line x1="664.9" y1="171.3" x2="739.8" y2="171.3" stroke="#555" stroke-width="1.2"/>
<line x1="664.9" y1="174.4" x2="739.8" y2="174.4" stroke="#231f20" stroke-width="0.8"/>
<line x1="664.9" y1="248.9" x2="739.8" y2="248.9" stroke="#777" stroke-width="1.2"/>
<line x1="664.9" y1="251.9" x2="739.8" y2="251.9" stroke="#888" stroke-width="1"/>
<circle cx="702.35" cy="142.3" r="21.4" fill="none" stroke="#231f20" stroke-width="0.7"/>
<circle cx="702.35" cy="142.3" r="28.2" fill="none" stroke="#231f20" stroke-width="0.6" stroke-dasharray="7 2.2"/>
<circle cx="682.55" cy="122.5" r="2.7" fill="#ffffff" stroke="#2a2a2a" stroke-width="1"/>
<line x1="677.75" y1="122.5" x2="687.35" y2="122.5" stroke="#333" stroke-width="0.6"/>
<line x1="682.55" y1="117.7" x2="682.55" y2="127.3" stroke="#333" stroke-width="0.6"/>
<circle cx="682.55" cy="162.1" r="2.7" fill="#ffffff" stroke="#2a2a2a" stroke-width="1"/>
<line x1="677.75" y1="162.1" x2="687.35" y2="162.1" stroke="#333" stroke-width="0.6"/>
<line x1="682.55" y1="157.3" x2="682.55" y2="166.9" stroke="#333" stroke-width="0.6"/>
<circle cx="722.15" cy="122.5" r="2.7" fill="#ffffff" stroke="#2a2a2a" stroke-width="1"/>
<line x1="717.35" y1="122.5" x2="726.95" y2="122.5" stroke="#333" stroke-width="0.6"/>
<line x1="722.15" y1="117.7" x2="722.15" y2="127.3" stroke="#333" stroke-width="0.6"/>
<circle cx="722.15" cy="162.1" r="2.7" fill="#ffffff" stroke="#2a2a2a" stroke-width="1"/>
<line x1="717.35" y1="162.1" x2="726.95" y2="162.1" stroke="#333" stroke-width="0.6"/>
<line x1="722.15" y1="157.3" x2="722.15" y2="166.9" stroke="#333" stroke-width="0.6"/>
<line x1="692.5" y1="142.3" x2="713.7" y2="142.3" stroke="#8a8a8a" stroke-width="0.6" stroke-dasharray="8 1.5 2 1.5"/>
<circle cx="664.9" cy="132.3" r="4.9" fill="#ffffff" stroke="#231f20" stroke-width="0.7"/>
<line x1="664.9" y1="121.8" x2="664.9" y2="142.8" stroke="#777" stroke-width="0.5" stroke-dasharray="6 1.5 1.5 1.5"/>
<circle cx="664.9" cy="270.3" r="4.9" fill="#ffffff" stroke="#231f20" stroke-width="0.7"/>
<line x1="664.9" y1="259.8" x2="664.9" y2="280.8" stroke="#777" stroke-width="0.5" stroke-dasharray="6 1.5 1.5 1.5"/>
<circle cx="739.8" cy="132.3" r="4.9" fill="#ffffff" stroke="#231f20" stroke-width="0.7"/>
<line x1="739.8" y1="121.8" x2="739.8" y2="142.8" stroke="#777" stroke-width="0.5" stroke-dasharray="6 1.5 1.5 1.5"/>
<circle cx="739.8" cy="270.3" r="4.9" fill="#ffffff" stroke="#231f20" stroke-width="0.7"/>
<line x1="739.8" y1="259.8" x2="739.8" y2="280.8" stroke="#777" stroke-width="0.5" stroke-dasharray="6 1.5 1.5 1.5"/>
<line x1="659.9" y1="132.3" x2="675.9" y2="132.3" stroke="#777" stroke-width="0.5" stroke-dasharray="8 1.5 1.5 1.5"/>
<line x1="728.8" y1="132.3" x2="744.8" y2="132.3" stroke="#777" stroke-width="0.5" stroke-dasharray="8 1.5 1.5 1.5"/>
<line x1="659.9" y1="270.3" x2="675.9" y2="270.3" stroke="#777" stroke-width="0.5" stroke-dasharray="8 1.5 1.5 1.5"/>
<line x1="728.8" y1="270.3" x2="744.8" y2="270.3" stroke="#777" stroke-width="0.5" stroke-dasharray="8 1.5 1.5 1.5"/>
<circle cx="702.35" cy="189.5" r="7.6" fill="#5c5c5c" stroke="#8a8a8a" stroke-width="0.8"/>
<circle cx="702.35" cy="189.5" r="6" fill="none" stroke="#9a9a9a" stroke-width="0.7"/>
<circle cx="702.35" cy="189.5" r="4.3" fill="#ececec" stroke="#2e2e2e" stroke-width="0.9"/>
<circle cx="702.35" cy="189.5" r="2.6" fill="#c9c9c9" stroke="#444" stroke-width="0.7"/>
<line x1="700.15" y1="190.3" x2="704.55" y2="190.3" stroke="#444" stroke-width="0.7"/>
<line x1="655.6" y1="3.2" x2="655.6" y2="92" stroke="#777" stroke-width="0.8"/>
<line x1="749.1" y1="3.2" x2="749.1" y2="92" stroke="#777" stroke-width="0.8"/>
<line x1="664.9" y1="25.7" x2="664.9" y2="125" stroke="#666" stroke-width="0.8" stroke-dasharray="91.3 2 3 2 40 2 3 2"/>
<line x1="739.8" y1="25.7" x2="739.8" y2="125" stroke="#666" stroke-width="0.8" stroke-dasharray="91.3 2 3 2 40 2 3 2"/>
<line x1="674.7" y1="47.2" x2="674.7" y2="142" stroke="#777" stroke-width="0.8"/>
<line x1="730.4" y1="47.2" x2="730.4" y2="142" stroke="#777" stroke-width="0.8"/>
<line x1="679.2" y1="64.2" x2="679.2" y2="120.5" stroke="#777" stroke-width="0.8"/>
<line x1="686" y1="64.2" x2="686" y2="120.5" stroke="#777" stroke-width="0.8"/>
<line x1="702.35" y1="91" x2="702.35" y2="307" stroke="#4a4a4a" stroke-width="0.75" stroke-dasharray="11 1.8 2 1.8"/>
<line x1="632.5" y1="214.4" x2="757.5" y2="214.4" stroke="#4a4a4a" stroke-width="0.75" stroke-dasharray="11 1.8 2 1.8"/>
<line x1="655.6" y1="7.8" x2="749.1" y2="7.8" stroke="#444" stroke-width="0.7"/>
<polygon points="655.6,7.8 664.4,5.9 664.4,9.7" fill="#231f20"/>
<polygon points="749.1,7.8 740.3,9.7 740.3,5.9" fill="#231f20"/>
<line x1="664.9" y1="29.9" x2="739.8" y2="29.9" stroke="#444" stroke-width="0.7"/>
<polygon points="664.9,29.9 673.7,28 673.7,31.8" fill="#231f20"/>
<polygon points="739.8,29.9 731,31.8 731,28" fill="#231f20"/>
<line x1="674.7" y1="51.9" x2="730.4" y2="51.9" stroke="#444" stroke-width="0.7"/>
<polygon points="674.7,51.9 683.5,50 683.5,53.8" fill="#231f20"/>
<polygon points="730.4,51.9 721.6,53.8 721.6,50" fill="#231f20"/>
<line x1="669" y1="68.5" x2="721.2" y2="68.5" stroke="#444" stroke-width="0.7"/>
<polygon points="679.2,68.5 670.4,70.4 670.4,66.6" fill="#231f20"/>
<polygon points="686,68.5 694.8,66.6 694.8,70.4" fill="#231f20"/>
<text x="703.3" y="5" font-size="14.3" text-anchor="middle" fill="#231f20">B</text>
<text x="703.3" y="28" font-size="14.3" text-anchor="middle" fill="#231f20">b</text>
<text x="704" y="50.1" font-size="14.3" text-anchor="middle" fill="#231f20">Ru</text>
<text x="710.2" y="67" font-size="14.3" text-anchor="middle" fill="#231f20">Mu</text>
<line x1="601.7" y1="132.3" x2="659.9" y2="132.3" stroke="#666" stroke-width="0.7"/>
<line x1="601.7" y1="270.3" x2="659.9" y2="270.3" stroke="#666" stroke-width="0.7"/>
<line x1="607.2" y1="132.3" x2="607.2" y2="270.3" stroke="#555" stroke-width="0.65"/>
<polygon points="607.2,132.3 609.1,141.1 605.3,141.1" fill="#231f20"/>
<polygon points="607.2,270.3 605.3,261.5 609.1,261.5" fill="#231f20"/>
<line x1="629.9" y1="132.3" x2="629.9" y2="214.4" stroke="#333" stroke-width="0.7"/>
<polygon points="629.9,132.3 631.8,141.1 628,141.1" fill="#231f20"/>
<polygon points="629.9,214.4 628,205.6 631.8,205.6" fill="#231f20"/>
<line x1="629.9" y1="214.4" x2="629.9" y2="270.3" stroke="#333" stroke-width="0.7"/>
<polygon points="629.9,214.4 631.8,223.2 628,223.2" fill="#231f20"/>
<polygon points="629.9,270.3 628,261.5 631.8,261.5" fill="#231f20"/>
<text x="604.6" y="203.2" font-size="14.3" text-anchor="middle" fill="#231f20" transform="rotate(-90 604.6 203.2)">h</text>
<text x="627.3" y="173.5" font-size="14.3" text-anchor="middle" fill="#231f20" transform="rotate(-90 627.3 173.5)">h2</text>
<text x="627.3" y="241" font-size="14.3" text-anchor="middle" fill="#231f20" transform="rotate(-90 627.3 241)">h1</text>
<line x1="754.6" y1="171.4" x2="782" y2="171.4" stroke="#777" stroke-width="0.7"/>
<line x1="754.6" y1="257.3" x2="783" y2="257.3" stroke="#333" stroke-width="0.9"/>
<line x1="777.7" y1="171.4" x2="777.7" y2="257.3" stroke="#555" stroke-width="0.65"/>
<polygon points="777.7,171.4 779.6,180.2 775.8,180.2" fill="#231f20"/>
<polygon points="777.7,257.3 775.8,248.5 779.6,248.5" fill="#231f20"/>
<text x="775.6" y="214.4" font-size="14.3" text-anchor="middle" fill="#231f20" transform="rotate(-90 775.6 214.4)">G</text>
<line x1="743" y1="266.1" x2="805" y2="266.1" stroke="#8a8a8a" stroke-width="0.8"/>
<line x1="743" y1="275.3" x2="805" y2="275.3" stroke="#8a8a8a" stroke-width="0.8"/>
<line x1="801.1" y1="232.7" x2="801.1" y2="290" stroke="#666" stroke-width="0.7"/>
<polygon points="801.1,266.1 799.2,257.3 803,257.3" fill="#231f20"/>
<polygon points="801.1,275.3 803,284.1 799.2,284.1" fill="#231f20"/>
<text x="798.5" y="239.4" font-size="14.3" text-anchor="middle" fill="#231f20" transform="rotate(-90 798.5 239.4)">f</text>
<line x1="650.1" y1="236.8" x2="650.1" y2="350" stroke="#555" stroke-width="0.9"/>
<line x1="652.7" y1="258.5" x2="652.7" y2="328" stroke="#666" stroke-width="0.9"/>
<line x1="754.6" y1="257.4" x2="754.6" y2="350" stroke="#666" stroke-width="0.8"/>
<line x1="626" y1="322.7" x2="702" y2="322.7" stroke="#444" stroke-width="0.7"/>
<polygon points="650.4,322.7 641.6,324.6 641.6,320.8" fill="#231f20"/>
<polygon points="652.6,322.7 661.4,320.8 661.4,324.6" fill="#231f20"/>
<polygon points="702.05,322.7 693.25,324.6 693.25,320.8" fill="#231f20"/>
<text x="633.8" y="321" font-size="14.3" text-anchor="middle" fill="#231f20">X</text>
<text x="677" y="318.3" font-size="14.3" text-anchor="middle" fill="#231f20">Pp</text>
<line x1="650.1" y1="344.7" x2="702.35" y2="344.7" stroke="#444" stroke-width="0.7"/>
<polygon points="650.1,344.7 658.9,342.8 658.9,346.6" fill="#231f20"/>
<polygon points="702.35,344.7 693.55,346.6 693.55,342.8" fill="#231f20"/>
<line x1="702.35" y1="344.7" x2="754.6" y2="344.7" stroke="#444" stroke-width="0.7"/>
<polygon points="702.35,344.7 711.15,342.8 711.15,346.6" fill="#231f20"/>
<polygon points="754.6,344.7 745.8,346.6 745.8,342.8" fill="#231f20"/>
<line x1="702.35" y1="308" x2="702.35" y2="350" stroke="#555" stroke-width="0.8"/>
<text x="676.2" y="342.6" font-size="14.3" text-anchor="middle" fill="#231f20">C</text>
<text x="727.8" y="342.6" font-size="14.3" text-anchor="middle" fill="#231f20">C</text>
</g>
<text transform="translate(22.9,602.2) scale(1,1.06)" font-size="28" font-weight="bold" stroke-width="0.35"><tspan fill="#9d9fa2" stroke="#9d9fa2">X</tspan><tspan fill="#1a1a1a" stroke="#1a1a1a">F</tspan></text>
<g transform="translate(-0.9,858.7)">
<line x1="219.5" y1="17.6" x2="219.5" y2="91" stroke="#8a8a8a" stroke-width="0.8"/>
<line x1="303.3" y1="18.5" x2="303.3" y2="74" stroke="#8a8a8a" stroke-width="0.7" stroke-dasharray="14 1.6 2 1.6"/>
<line x1="249.6" y1="41.2" x2="249.6" y2="210" stroke="#9a9a9a" stroke-width="1"/>
<line x1="357.5" y1="41.2" x2="357.5" y2="210" stroke="#9a9a9a" stroke-width="1"/>
<path d="M226.4,94.55 L266,94.55 L269.4,97.7 L338.5,97.7 L341,94.55 L380.9,94.55 L384.6,99.2 L385.3,293.6 L381.2,298 L341.3,298 L338.2,294.4 L269.6,294.4 L266.4,298 L226.6,298 L219.9,291.2 L219.9,251.9 L222.9,248.5 L223.3,172.6 L220.1,170.4 L220.1,100.6 Z" fill="#ffffff" stroke="none" stroke-width="0" stroke-linejoin="miter"/>
<path d="M269.6,294.4 L266.4,298 L226.6,298 L219.9,291.2 L219.9,251.9 L222.9,248.5 L223.3,172.6 L220.1,170.4 L220.1,100.6 L226.4,94.55 L266,94.55 L269.4,97.7 L338.5,97.7 L341,94.55 L380.9,94.55 L384.6,99.2 L385.3,293.6 L381.2,298 L341.3,298 L338.2,294.4" fill="none" stroke="#231f20" stroke-width="1.6" stroke-linejoin="miter"/>
<line x1="269.6" y1="294.4" x2="338.2" y2="294.4" stroke="#333" stroke-width="0.9"/>
<line x1="384.3" y1="99.5" x2="384.3" y2="228.6" stroke="#8c8c8c" stroke-width="2.6"/>
<line x1="385.5" y1="99.5" x2="385.5" y2="228.6" stroke="#231f20" stroke-width="1.1"/>
<rect x="383.9" y="233.4" width="2.7" height="11.7" fill="#d9d9d9" stroke="#231f20" stroke-width="0.6"/>
<rect x="220.2" y="183.6" width="3" height="11.7" fill="#d9d9d9" stroke="#231f20" stroke-width="0.6"/>
<line x1="226.6" y1="172.6" x2="226.6" y2="248.6" stroke="#231f20" stroke-width="0.8"/>
<path d="M220.1,170.4 L229.1,170.4 M223.3,172.6 L226.6,172.6 L229.1,170.4" fill="none" stroke="#231f20" stroke-width="0.8" stroke-linejoin="round"/>
<path d="M219.9,251.9 L229.2,251.9 M222.9,249.4 L226.6,249.4 L229.2,251.9" fill="none" stroke="#231f20" stroke-width="0.8" stroke-linejoin="round"/>
<line x1="380.2" y1="189.6" x2="380.2" y2="252" stroke="#231f20" stroke-width="0.8"/>
<line x1="383.1" y1="189.6" x2="383.1" y2="252" stroke="#231f20" stroke-width="1.05"/>
<line x1="380.2" y1="189.6" x2="383.1" y2="189.6" stroke="#231f20" stroke-width="0.8"/>
<line x1="377.5" y1="251.9" x2="385.3" y2="251.9" stroke="#231f20" stroke-width="0.8"/>
<line x1="377.5" y1="261" x2="385.3" y2="261" stroke="#231f20" stroke-width="0.8"/>
<line x1="220.1" y1="161.8" x2="229" y2="161.8" stroke="#231f20" stroke-width="0.8"/>
<line x1="219.9" y1="261.4" x2="229.2" y2="261.4" stroke="#231f20" stroke-width="0.8"/>
<line x1="220.8" y1="127.9" x2="229" y2="127.9" stroke="#231f20" stroke-width="1.2" stroke-dasharray="3.3 1.6"/>
<line x1="220.8" y1="136.9" x2="229" y2="136.9" stroke="#231f20" stroke-width="1.2" stroke-dasharray="3.3 1.6"/>
<line x1="229.3" y1="107" x2="229.3" y2="170.4" stroke="#333" stroke-width="1.1"/>
<line x1="214.7" y1="132.3" x2="235.8" y2="132.3" stroke="#231f20" stroke-width="0.5" stroke-dasharray="5 1.5 1.5 1.5"/>
<line x1="220.8" y1="265.6" x2="229.2" y2="265.6" stroke="#231f20" stroke-width="1.2" stroke-dasharray="3.3 1.6"/>
<line x1="220.8" y1="275" x2="229.2" y2="275" stroke="#231f20" stroke-width="1.2" stroke-dasharray="3.3 1.6"/>
<line x1="229.3" y1="251.9" x2="229.3" y2="286.4" stroke="#333" stroke-width="1.1"/>
<line x1="214.5" y1="270.3" x2="236" y2="270.3" stroke="#231f20" stroke-width="0.5" stroke-dasharray="5 1.5 1.5 1.5"/>
<line x1="266" y1="100.8" x2="341.4" y2="100.8" stroke="#333" stroke-width="1.2"/>
<rect x="322.2" y="94.6" width="11.3" height="3.2" fill="#ffffff" stroke="#231f20" stroke-width="0.8"/>
<line x1="269.4" y1="291.2" x2="338.4" y2="291.2" stroke="#231f20" stroke-width="1.5"/>
<rect x="272.1" y="294.5" width="12.6" height="2.7" fill="#ffffff" stroke="#231f20" stroke-width="0.8"/>
<line x1="256.3" y1="94.55" x2="256.3" y2="104.1" stroke="#231f20" stroke-width="1.05"/>
<line x1="266" y1="94.55" x2="266" y2="104.1" stroke="#231f20" stroke-width="1.05"/>
<line x1="341.4" y1="94.55" x2="341.4" y2="104.1" stroke="#231f20" stroke-width="1.05"/>
<line x1="350" y1="94.55" x2="350" y2="104.1" stroke="#231f20" stroke-width="1.05"/>
<line x1="256.6" y1="289.1" x2="256.6" y2="298" stroke="#231f20" stroke-width="1.05"/>
<line x1="265.6" y1="289.1" x2="265.6" y2="298" stroke="#231f20" stroke-width="0.8"/>
<line x1="350.4" y1="289.1" x2="350.4" y2="298" stroke="#231f20" stroke-width="1.05"/>
<line x1="341.8" y1="289.1" x2="341.8" y2="298" stroke="#231f20" stroke-width="0.8"/>
<line x1="242.4" y1="289.6" x2="242.4" y2="297.8" stroke="#231f20" stroke-width="1.1" stroke-dasharray="2.6 1.4"/>
<line x1="253.3" y1="289.6" x2="253.3" y2="297.8" stroke="#231f20" stroke-width="1.1" stroke-dasharray="2.6 1.4"/>
<line x1="353.9" y1="289.6" x2="353.9" y2="297.8" stroke="#231f20" stroke-width="1.1" stroke-dasharray="2.6 1.4"/>
<line x1="363.6" y1="289.6" x2="363.6" y2="297.8" stroke="#231f20" stroke-width="1.1" stroke-dasharray="2.6 1.4"/>
<path d="M229.3,179.2 L229.3,106.6 Q229.3,104.1 231.8,104.1 L267.5,104.1 Q269.5,104.1 269.5,106.1 L269.5,146" fill="none" stroke="#231f20" stroke-width="0.8" stroke-linejoin="round"/>
<path d="M337.1,146.5 L337.1,106.1 Q337.1,104.1 339.1,104.1 L375.6,104.1 Q377.6,104.1 377.6,106.1 L377.5,176.6 L380.2,179.8 L380.2,189.6" fill="none" stroke="#231f20" stroke-width="0.8" stroke-linejoin="round"/>
<path d="M229.4,251 Q229.4,248.9 231.5,248.9 M229.4,251 L229.4,286.3 Q229.4,288.8 231.9,288.8 L267.4,288.8 Q269.4,288.8 269.4,286.8 L269.4,281.3" fill="none" stroke="#231f20" stroke-width="0.8" stroke-linejoin="round"/>
<path d="M337.4,278.6 L337.4,286.6 Q337.4,288.6 339.4,288.6 L375.5,288.6 Q377.5,288.6 377.5,286.6 L377.5,251 Q377.5,248.9 375.5,248.9 L367.8,248.9" fill="none" stroke="#231f20" stroke-width="0.8" stroke-linejoin="round"/>
<path d="M226.8,179.7 L238.4,179.7 Q239.6,179.7 240.3,178.7 A72.5,72.5 0 0 1 269.5,150.3 L269.5,144.6 Q269.7,141.3 274.8,141.3 L331.8,141.3 Q336.9,141.3 337.1,144.6 L337.1,150.3 A72.5,72.5 0 0 1 366.3,178.7 Q367,179.7 368.2,179.7 L374.4,179.7 Q376.4,179.7 376.4,181.7 L376.4,246.9 Q376.4,248.9 374.4,248.9 L368.2,248.9 Q367,248.9 366.4,249.9 A72.5,72.5 0 0 1 337.4,278.5 L337.4,282.6 Q337.2,287.3 331.8,287.3 L275,287.3 Q269.6,287.3 269.4,282.6 L269.4,278.5 A72.5,72.5 0 0 1 240.2,249.9 Q239.6,248.9 238.4,248.9 L226.8,248.9" fill="none" stroke="#231f20" stroke-width="1" stroke-linejoin="round"/>
<line x1="276" y1="141.3" x2="330.6" y2="141.3" stroke="#231f20" stroke-width="1.3"/>
<path d="M233.4,179.7 Q230.2,179.7 230.2,183 L230.2,245.6 Q230.2,248.9 233.4,248.9" fill="none" stroke="#231f20" stroke-width="0.8" stroke-linejoin="round"/>
<line x1="358.2" y1="127" x2="377.6" y2="127" stroke="#231f20" stroke-width="1.05"/>
<line x1="358.2" y1="157.3" x2="377.6" y2="157.3" stroke="#231f20" stroke-width="1.05"/>
<path d="M358.2,127 Q350.5,142.2 358.2,157.3" fill="none" stroke="#231f20" stroke-width="0.8" stroke-linejoin="round"/>
<path d="M377.6,112 L368.3,112 Q365.7,112 365.7,114.6 L365.7,121.1 Q365.7,123.7 368.3,123.7 L377.6,123.7" fill="none" stroke="#231f20" stroke-width="1.05" stroke-linejoin="round"/>
<line x1="368.2" y1="112" x2="368.2" y2="123.7" stroke="#231f20" stroke-width="0.8"/>
<path d="M377.6,160.2 L368.3,160.2 Q365.7,160.2 365.7,162.8 L365.7,170 Q365.7,172.6 368.3,172.6 L377.6,172.6" fill="none" stroke="#231f20" stroke-width="1.05" stroke-linejoin="round"/>
<line x1="368.2" y1="160.2" x2="368.2" y2="172.6" stroke="#231f20" stroke-width="0.8"/>
<rect x="377.6" y="162.9" width="6" height="8.2" fill="#ffffff" stroke="#231f20" stroke-width="0.8"/>
<polygon points="369.22,214.4 369.5,216.57 369.28,218.72 368.62,220.83 367.82,222.89 367.2,224.95 366.93,227.06 366.95,229.24 366.98,231.46 366.68,233.63 365.91,235.65 364.73,237.52 363.42,239.3 362.29,241.13 361.49,243.1 360.94,245.21 360.39,247.36 359.55,249.38 358.28,251.13 356.65,252.63 354.93,254.02 353.36,255.49 352.08,257.18 351.01,259.08 349.91,261.01 348.58,262.74 346.9,264.11 344.94,265.14 342.92,266.03 341.02,267.04 339.35,268.35 337.82,269.91 336.26,271.49 334.52,272.82 332.54,273.7 330.39,274.19 328.2,274.52 326.11,275.01 324.16,275.84 322.27,276.95 320.36,278.08 318.34,278.91 316.2,279.25 313.99,279.16 311.79,278.92 309.65,278.85 307.54,279.14 305.44,279.73 303.3,280.32 301.13,280.6 298.98,280.38 296.87,279.72 294.81,278.92 292.75,278.3 290.64,278.03 288.46,278.05 286.24,278.08 284.07,277.78 282.05,277.01 280.18,275.83 278.4,274.52 276.57,273.39 274.6,272.59 272.49,272.04 270.34,271.49 268.32,270.65 266.57,269.38 265.07,267.75 263.68,266.03 262.21,264.46 260.52,263.18 258.62,262.11 256.69,261.01 254.96,259.68 253.59,258 252.56,256.04 251.67,254.02 250.66,252.12 249.35,250.45 247.79,248.92 246.21,247.36 244.88,245.62 244,243.64 243.51,241.49 243.18,239.3 242.69,237.21 241.86,235.26 240.75,233.37 239.62,231.46 238.79,229.44 238.45,227.3 238.54,225.09 238.78,222.89 238.85,220.75 238.56,218.64 237.97,216.54 237.38,214.4 237.1,212.23 237.32,210.08 237.98,207.97 238.78,205.91 239.4,203.85 239.67,201.74 239.65,199.56 239.62,197.34 239.92,195.17 240.69,193.15 241.87,191.28 243.18,189.5 244.31,187.67 245.11,185.7 245.66,183.59 246.21,181.44 247.05,179.42 248.32,177.67 249.95,176.17 251.67,174.78 253.24,173.31 254.52,171.62 255.59,169.72 256.69,167.79 258.02,166.06 259.7,164.69 261.66,163.66 263.68,162.77 265.58,161.76 267.25,160.45 268.78,158.89 270.34,157.31 272.08,155.98 274.06,155.1 276.21,154.61 278.4,154.28 280.49,153.79 282.44,152.96 284.33,151.85 286.24,150.72 288.26,149.89 290.4,149.55 292.61,149.64 294.81,149.88 296.95,149.95 299.06,149.66 301.16,149.07 303.3,148.48 305.47,148.2 307.62,148.42 309.73,149.08 311.79,149.88 313.85,150.5 315.96,150.77 318.14,150.75 320.36,150.72 322.53,151.02 324.55,151.79 326.42,152.97 328.2,154.28 330.03,155.41 332,156.21 334.11,156.76 336.26,157.31 338.28,158.15 340.03,159.42 341.53,161.05 342.92,162.77 344.39,164.34 346.08,165.62 347.98,166.69 349.91,167.79 351.64,169.12 353.01,170.8 354.04,172.76 354.93,174.78 355.94,176.68 357.25,178.35 358.81,179.88 360.39,181.44 361.72,183.18 362.6,185.16 363.09,187.31 363.42,189.5 363.91,191.59 364.74,193.54 365.85,195.43 366.98,197.34 367.81,199.36 368.15,201.5 368.06,203.71 367.82,205.91 367.75,208.05 368.04,210.16 368.63,212.26" fill="none" stroke="#231f20" stroke-width="0.85"/>
<circle cx="303.3" cy="214.4" r="54" fill="none" stroke="#231f20" stroke-width="0.5" stroke-dasharray="6.5 1.5 1.5 1.5"/>
<polygon points="348.9,207.7 369,207.7 369,221.1 348.9,221.1" fill="#ffffff" stroke="none"/>
<line x1="348.9" y1="207.7" x2="369" y2="207.7" stroke="#231f20" stroke-width="0.9"/>
<line x1="348.9" y1="221.1" x2="369" y2="221.1" stroke="#231f20" stroke-width="0.9"/>
<circle cx="357.5" cy="214.4" r="3.35" fill="#ffffff" stroke="#231f20" stroke-width="0.95"/>
<circle cx="357.5" cy="214.4" r="2.1" fill="none" stroke="#4a4a4a" stroke-width="0.55"/>
<polygon points="340.28,241.91 353.86,255.48 344.38,264.96 330.81,251.38" fill="#ffffff" stroke="none"/>
<path d="M340.28,241.91 L353.86,255.48 L344.38,264.96 L330.81,251.38" fill="none" stroke="#231f20" stroke-width="1" stroke-linejoin="miter"/>
<circle cx="341.63" cy="252.73" r="3.35" fill="#ffffff" stroke="#231f20" stroke-width="0.95"/>
<circle cx="341.63" cy="252.73" r="2.1" fill="none" stroke="#4a4a4a" stroke-width="0.55"/>
<polygon points="310,260 310,280.1 296.6,280.1 296.6,260" fill="#ffffff" stroke="none"/>
<line x1="310" y1="260" x2="310" y2="280.1" stroke="#231f20" stroke-width="0.9"/>
<line x1="296.6" y1="260" x2="296.6" y2="280.1" stroke="#231f20" stroke-width="1.3"/>
<circle cx="303.3" cy="268.6" r="3.35" fill="#ffffff" stroke="#231f20" stroke-width="0.95"/>
<circle cx="303.3" cy="268.6" r="2.1" fill="none" stroke="#4a4a4a" stroke-width="0.55"/>
<polygon points="275.79,251.38 262.22,264.96 252.74,255.48 266.32,241.91" fill="#ffffff" stroke="none"/>
<path d="M275.79,251.38 L262.22,264.96 L252.74,255.48 L266.32,241.91" fill="none" stroke="#231f20" stroke-width="1" stroke-linejoin="miter"/>
<circle cx="264.97" cy="252.73" r="3.35" fill="#ffffff" stroke="#231f20" stroke-width="0.95"/>
<circle cx="264.97" cy="252.73" r="2.1" fill="none" stroke="#4a4a4a" stroke-width="0.55"/>
<polygon points="257.7,221.1 237.6,221.1 237.6,207.7 257.7,207.7" fill="#ffffff" stroke="none"/>
<line x1="257.7" y1="221.1" x2="237.6" y2="221.1" stroke="#231f20" stroke-width="0.9"/>
<line x1="257.7" y1="207.7" x2="237.6" y2="207.7" stroke="#231f20" stroke-width="0.9"/>
<circle cx="249.1" cy="214.4" r="3.35" fill="#ffffff" stroke="#231f20" stroke-width="0.95"/>
<circle cx="249.1" cy="214.4" r="2.1" fill="none" stroke="#4a4a4a" stroke-width="0.55"/>
<polygon points="266.32,186.89 252.74,173.32 262.22,163.84 275.79,177.42" fill="#ffffff" stroke="none"/>
<path d="M266.32,186.89 L252.74,173.32 L262.22,163.84 L275.79,177.42" fill="none" stroke="#231f20" stroke-width="1" stroke-linejoin="miter"/>
<circle cx="264.97" cy="176.07" r="3.35" fill="#ffffff" stroke="#231f20" stroke-width="0.95"/>
<circle cx="264.97" cy="176.07" r="2.1" fill="none" stroke="#4a4a4a" stroke-width="0.55"/>
<polygon points="296.6,168.8 296.6,148.7 310,148.7 310,168.8" fill="#ffffff" stroke="none"/>
<line x1="296.6" y1="168.8" x2="296.6" y2="148.7" stroke="#231f20" stroke-width="1.3"/>
<line x1="310" y1="168.8" x2="310" y2="148.7" stroke="#231f20" stroke-width="0.9"/>
<circle cx="303.3" cy="160.2" r="3.35" fill="#ffffff" stroke="#231f20" stroke-width="0.95"/>
<circle cx="303.3" cy="160.2" r="2.1" fill="none" stroke="#4a4a4a" stroke-width="0.55"/>
<polygon points="330.81,177.42 344.38,163.84 353.86,173.32 340.28,186.89" fill="#ffffff" stroke="none"/>
<path d="M330.81,177.42 L344.38,163.84 L353.86,173.32 L340.28,186.89" fill="none" stroke="#231f20" stroke-width="1" stroke-linejoin="miter"/>
<circle cx="341.63" cy="176.07" r="3.35" fill="#ffffff" stroke="#231f20" stroke-width="0.95"/>
<circle cx="341.63" cy="176.07" r="2.1" fill="none" stroke="#4a4a4a" stroke-width="0.55"/>
<path d="M349.38,221.37 A46.6,46.6 0 0 1 340.81,242.05" fill="none" stroke="#231f20" stroke-width="2.9" stroke-linejoin="round"/>
<path d="M349.3,221.85 A46.6,46.6 0 0 1 341.1,241.66" fill="none" stroke="#ffffff" stroke-width="1.5" stroke-linejoin="round"/>
<path d="M349.3,221.85 A46.6,46.6 0 0 1 341.1,241.66" fill="none" stroke="#6b6b6b" stroke-width="1.5" stroke-linejoin="round" stroke-dasharray="0.7 1.3"/>
<path d="M330.95,251.91 A46.6,46.6 0 0 1 310.27,260.48" fill="none" stroke="#231f20" stroke-width="2.9" stroke-linejoin="round"/>
<path d="M330.56,252.2 A46.6,46.6 0 0 1 310.75,260.4" fill="none" stroke="#ffffff" stroke-width="1.5" stroke-linejoin="round"/>
<path d="M330.56,252.2 A46.6,46.6 0 0 1 310.75,260.4" fill="none" stroke="#6b6b6b" stroke-width="1.5" stroke-linejoin="round" stroke-dasharray="0.7 1.3"/>
<path d="M296.33,260.48 A46.6,46.6 0 0 1 275.65,251.91" fill="none" stroke="#231f20" stroke-width="2.9" stroke-linejoin="round"/>
<path d="M295.85,260.4 A46.6,46.6 0 0 1 276.04,252.2" fill="none" stroke="#ffffff" stroke-width="1.5" stroke-linejoin="round"/>
<path d="M295.85,260.4 A46.6,46.6 0 0 1 276.04,252.2" fill="none" stroke="#6b6b6b" stroke-width="1.5" stroke-linejoin="round" stroke-dasharray="0.7 1.3"/>
<path d="M265.79,242.05 A46.6,46.6 0 0 1 257.22,221.37" fill="none" stroke="#231f20" stroke-width="2.9" stroke-linejoin="round"/>
<path d="M265.5,241.66 A46.6,46.6 0 0 1 257.3,221.85" fill="none" stroke="#ffffff" stroke-width="1.5" stroke-linejoin="round"/>
<path d="M265.5,241.66 A46.6,46.6 0 0 1 257.3,221.85" fill="none" stroke="#6b6b6b" stroke-width="1.5" stroke-linejoin="round" stroke-dasharray="0.7 1.3"/>
<path d="M257.22,207.43 A46.6,46.6 0 0 1 265.79,186.75" fill="none" stroke="#231f20" stroke-width="2.9" stroke-linejoin="round"/>
<path d="M257.3,206.95 A46.6,46.6 0 0 1 265.5,187.14" fill="none" stroke="#ffffff" stroke-width="1.5" stroke-linejoin="round"/>
<path d="M257.3,206.95 A46.6,46.6 0 0 1 265.5,187.14" fill="none" stroke="#6b6b6b" stroke-width="1.5" stroke-linejoin="round" stroke-dasharray="0.7 1.3"/>
<path d="M275.65,176.89 A46.6,46.6 0 0 1 296.33,168.32" fill="none" stroke="#231f20" stroke-width="2.9" stroke-linejoin="round"/>
<path d="M276.04,176.6 A46.6,46.6 0 0 1 295.85,168.4" fill="none" stroke="#ffffff" stroke-width="1.5" stroke-linejoin="round"/>
<path d="M276.04,176.6 A46.6,46.6 0 0 1 295.85,168.4" fill="none" stroke="#6b6b6b" stroke-width="1.5" stroke-linejoin="round" stroke-dasharray="0.7 1.3"/>
<path d="M310.27,168.32 A46.6,46.6 0 0 1 330.95,176.89" fill="none" stroke="#231f20" stroke-width="2.9" stroke-linejoin="round"/>
<path d="M310.75,168.4 A46.6,46.6 0 0 1 330.56,176.6" fill="none" stroke="#ffffff" stroke-width="1.5" stroke-linejoin="round"/>
<path d="M310.75,168.4 A46.6,46.6 0 0 1 330.56,176.6" fill="none" stroke="#6b6b6b" stroke-width="1.5" stroke-linejoin="round" stroke-dasharray="0.7 1.3"/>
<path d="M340.81,186.75 A46.6,46.6 0 0 1 349.38,207.43" fill="none" stroke="#231f20" stroke-width="2.9" stroke-linejoin="round"/>
<path d="M341.1,187.14 A46.6,46.6 0 0 1 349.3,206.95" fill="none" stroke="#ffffff" stroke-width="1.5" stroke-linejoin="round"/>
<path d="M341.1,187.14 A46.6,46.6 0 0 1 349.3,206.95" fill="none" stroke="#6b6b6b" stroke-width="1.5" stroke-linejoin="round" stroke-dasharray="0.7 1.3"/>
<circle cx="303.3" cy="214.4" r="42.4" fill="#ffffff" stroke="#231f20" stroke-width="0.95"/>
<circle cx="303.3" cy="214.4" r="38" fill="none" stroke="#231f20" stroke-width="0.95"/>
<circle cx="303.3" cy="214.4" r="28.7" fill="none" stroke="#231f20" stroke-width="0.95"/>
<circle cx="303.3" cy="214.4" r="22.2" fill="none" stroke="#231f20" stroke-width="0.95"/>
<path d="M299.4,201.11 L299.4,198.1 L307.2,198.1 L307.2,201.11 A13.85,13.85 0 1 1 299.4,201.11 Z" fill="#ffffff" stroke="#231f20" stroke-width="1.05" stroke-linejoin="round"/>
<circle cx="355.4" cy="193.4" r="6.8" fill="none" stroke="#231f20" stroke-width="0.55"/>
<line x1="249.6" y1="41.2" x2="249.6" y2="209" stroke="#919191" stroke-width="1.1"/>
<line x1="357.5" y1="41.2" x2="357.5" y2="209" stroke="#919191" stroke-width="1.1"/>
<line x1="300.1" y1="62" x2="300.1" y2="156.6" stroke="#6e6e6e" stroke-width="0.9"/>
<line x1="306.7" y1="62" x2="306.7" y2="156.6" stroke="#6e6e6e" stroke-width="0.9"/>
<line x1="219" y1="214.4" x2="394" y2="214.4" stroke="#4a4a4a" stroke-width="0.75" stroke-dasharray="17 1.6 2 1.6"/>
<line x1="303.3" y1="73" x2="303.3" y2="305.5" stroke="#231f20" stroke-width="0.5" stroke-dasharray="9 1.6 1.8 1.6"/>
<line x1="198.6" y1="142.3" x2="383" y2="142.3" stroke="#555" stroke-width="0.5" stroke-dasharray="10 1.6 2 1.6"/>
<line x1="248.3" y1="282" x2="248.3" y2="327" stroke="#444" stroke-width="0.7" stroke-dasharray="7 1.6 1.8 1.6"/>
<line x1="358.8" y1="282" x2="358.8" y2="327" stroke="#444" stroke-width="0.7" stroke-dasharray="7 1.6 1.8 1.6"/>
<g transform="translate(0.7,0)">
<path d="M385.6,109.4 L387.6,109.4 L396.7,99 L396.7,185.6 L387.6,175.2 L385.6,175.2 Z" fill="url(#gf)" stroke="none" stroke-width="0" stroke-linejoin="round"/>
<path d="M387.6,109.4 L396.7,99 L396.7,114.8 L387.6,114.8 Z" fill="#5bc8f3" stroke="none" stroke-width="0" stroke-linejoin="round"/>
<path d="M387.6,175.2 L396.7,185.6 L396.7,169.8 L387.6,169.8 Z" fill="#5bc8f3" stroke="none" stroke-width="0" stroke-linejoin="round"/>
<path d="M385.4,109.4 L387.6,109.4 L396.7,99" fill="none" stroke="#231f20" stroke-width="1.5" stroke-linejoin="miter"/>
<path d="M385.4,175.2 L387.6,175.2 L396.7,185.6" fill="none" stroke="#231f20" stroke-width="1.5" stroke-linejoin="miter"/>
<line x1="387.7" y1="109.4" x2="387.7" y2="175.2" stroke="#231f20" stroke-width="0.9"/>
<line x1="387.6" y1="109.6" x2="396.7" y2="109.6" stroke="#231f20" stroke-width="0.7"/>
<line x1="385.6" y1="114.8" x2="396.7" y2="114.8" stroke="#231f20" stroke-width="0.9"/>
<line x1="385.6" y1="169.8" x2="396.7" y2="169.8" stroke="#231f20" stroke-width="0.9"/>
<line x1="387.6" y1="175" x2="396.7" y2="175" stroke="#231f20" stroke-width="0.7"/>
<path d="M396.7,114.8 Q388.4,128 388.4,142.3 Q388.4,156.6 396.7,169.8" fill="none" stroke="#231f20" stroke-width="1" stroke-linejoin="round"/>
<rect x="396.8" y="76.4" width="8.7" height="131.9" fill="url(#gp)" stroke="none" stroke-width="0"/>
<path d="M396.8,208.3 L396.8,76.4 M396.8,76.4 L405.5,76.4 L405.5,208.3 L396.8,208.3" fill="none" stroke="none" stroke-width="0" stroke-linejoin="round"/>
<line x1="396.9" y1="76.4" x2="396.9" y2="208.3" stroke="#333" stroke-width="0.9"/>
<path d="M396.4,76.4 L405.3,76.4 L405.3,208.3 L396.4,208.3" fill="none" stroke="#231f20" stroke-width="1.6" stroke-linejoin="miter"/>
<line x1="383" y1="142.3" x2="411" y2="142.3" stroke="#777" stroke-width="0.5" stroke-dasharray="9 1.6 2 1.6"/>
</g>
<line x1="406.4" y1="17.6" x2="406.4" y2="73.5" stroke="#8a8a8a" stroke-width="0.8"/>
<line x1="219.5" y1="24.3" x2="303.3" y2="24.3" stroke="#8a8a8a" stroke-width="0.8"/>
<polygon points="219.5,24.3 228.3,22.4 228.3,26.2" fill="#231f20"/>
<polygon points="303.3,24.3 294.5,26.2 294.5,22.4" fill="#231f20"/>
<line x1="303.3" y1="24.3" x2="406.4" y2="24.3" stroke="#8a8a8a" stroke-width="0.8"/>
<polygon points="303.3,24.3 312.1,22.4 312.1,26.2" fill="#231f20"/>
<polygon points="406.4,24.3 397.6,26.2 397.6,22.4" fill="#231f20"/>
<text x="261.5" y="22.3" font-size="14.3" text-anchor="middle" fill="#231f20">E</text>
<text x="360.8" y="22.3" font-size="14.3" text-anchor="middle" fill="#231f20">Kc</text>
<line x1="409" y1="76.5" x2="434.6" y2="76.5" stroke="#8a8a8a" stroke-width="0.8"/>
<line x1="409" y1="208.3" x2="434.6" y2="208.3" stroke="#8a8a8a" stroke-width="0.8"/>
<line x1="430.5" y1="76.5" x2="430.5" y2="208.3" stroke="#555" stroke-width="0.6"/>
<polygon points="430.5,76.5 432.4,85.3 428.6,85.3" fill="#231f20"/>
<polygon points="430.5,208.3 428.6,199.5 432.4,199.5" fill="#231f20"/>
<text x="427.8" y="142.3" font-size="14.3" text-anchor="middle" fill="#231f20" transform="rotate(-90 427.8 142.3)">Y</text>
<line x1="249.6" y1="47.5" x2="357.5" y2="47.5" stroke="#8a8a8a" stroke-width="0.8"/>
<polygon points="249.6,47.5 258.4,45.6 258.4,49.4" fill="#231f20"/>
<polygon points="357.5,47.5 348.7,49.4 348.7,45.6" fill="#231f20"/>
<text x="303.6" y="45.8" font-size="14.3" text-anchor="middle" fill="#231f20">R</text>
<line x1="291.5" y1="68.9" x2="337" y2="68.9" stroke="#8a8a8a" stroke-width="0.8"/>
<polygon points="300.1,68.9 291.3,70.8 291.3,67" fill="#231f20"/>
<polygon points="306.7,68.9 315.5,67 315.5,70.8" fill="#231f20"/>
<text x="328.5" y="67" font-size="14.3" text-anchor="middle" fill="#231f20">M</text>
<line x1="155" y1="94.3" x2="223.4" y2="94.3" stroke="#666" stroke-width="0.7"/>
<line x1="155" y1="297.8" x2="223.4" y2="297.8" stroke="#666" stroke-width="0.7"/>
<line x1="177" y1="214.5" x2="215" y2="214.5" stroke="#444" stroke-width="0.7"/>
<line x1="160.2" y1="94.3" x2="160.2" y2="297.8" stroke="#444" stroke-width="0.65"/>
<polygon points="160.2,94.3 162.1,103.1 158.3,103.1" fill="#231f20"/>
<polygon points="160.2,297.8 158.3,289 162.1,289" fill="#231f20"/>
<line x1="182.8" y1="94.3" x2="182.8" y2="214.5" stroke="#8a8a8a" stroke-width="0.8"/>
<polygon points="182.8,94.3 184.7,103.1 180.9,103.1" fill="#231f20"/>
<polygon points="182.8,214.5 180.9,205.7 184.7,205.7" fill="#231f20"/>
<line x1="182.8" y1="214.5" x2="182.8" y2="297.8" stroke="#8a8a8a" stroke-width="0.8"/>
<polygon points="182.8,214.5 184.7,223.3 180.9,223.3" fill="#231f20"/>
<polygon points="182.8,297.8 180.9,289 184.7,289" fill="#231f20"/>
<line x1="205.3" y1="142.3" x2="205.3" y2="214.5" stroke="#444" stroke-width="0.65"/>
<polygon points="205.3,142.3 207.2,151.1 203.4,151.1" fill="#231f20"/>
<polygon points="205.3,214.5 203.4,205.7 207.2,205.7" fill="#231f20"/>
<text x="157" y="196.8" font-size="14.3" text-anchor="middle" fill="#231f20" transform="rotate(-90 157 196.8)">H</text>
<text x="178.2" y="153.4" font-size="14.3" text-anchor="middle" fill="#231f20" transform="rotate(-90 178.2 153.4)">H2</text>
<text x="178.2" y="254.6" font-size="14.3" text-anchor="middle" fill="#231f20" transform="rotate(-90 178.2 254.6)">H1</text>
<text x="202.2" y="178.7" font-size="14.3" text-anchor="middle" fill="#231f20" transform="rotate(-90 202.2 178.7)">I</text>
<line x1="199.3" y1="288.8" x2="227.8" y2="288.8" stroke="#555" stroke-width="0.7"/>
<line x1="204" y1="280" x2="204" y2="328" stroke="#666" stroke-width="0.7"/>
<polygon points="204,288.8 202.1,280 205.9,280" fill="#231f20"/>
<polygon points="204,297.8 205.9,306.6 202.1,306.6" fill="#231f20"/>
<text x="202.2" y="318.8" font-size="14.3" text-anchor="middle" fill="#231f20" transform="rotate(-90 202.2 318.8)">S</text>
<line x1="219.6" y1="299" x2="219.6" y2="350" stroke="#8a8a8a" stroke-width="0.8"/>
<line x1="385" y1="299" x2="385" y2="350" stroke="#8a8a8a" stroke-width="0.8"/>
<line x1="248.3" y1="322.3" x2="358.8" y2="322.3" stroke="#8a8a8a" stroke-width="0.8"/>
<polygon points="248.3,322.3 257.1,320.4 257.1,324.2" fill="#231f20"/>
<polygon points="358.8,322.3 350,324.2 350,320.4" fill="#231f20"/>
<line x1="219.6" y1="344.8" x2="385" y2="344.8" stroke="#8a8a8a" stroke-width="0.8"/>
<polygon points="219.6,344.8 228.4,342.9 228.4,346.7" fill="#231f20"/>
<polygon points="385,344.8 376.2,346.7 376.2,342.9" fill="#231f20"/>
<text x="302.2" y="320.6" font-size="14.3" text-anchor="middle" fill="#231f20">a</text>
<text x="303.2" y="341.8" font-size="14.3" text-anchor="middle" fill="#231f20">A</text>
</g>
<g transform="translate(0.6,858.7)">
<circle cx="702.35" cy="142.3" r="65.6" fill="none" stroke="#231f20" stroke-width="0.7"/>
<path d="M655.6,94.2 L749.1,94.2 L749.1,298.1 L655.6,298.1 Z" fill="#ffffff" stroke="none" stroke-width="0" stroke-linejoin="round"/>
<path d="M650,171 L754.7,171 L754.7,258 L650,258 Z" fill="#ffffff" stroke="none" stroke-width="0" stroke-linejoin="round"/>
<path d="M653,148 L751.7,148 L751.7,171 L653,171 Z" fill="#ffffff" stroke="none" stroke-width="0" stroke-linejoin="round"/>
<path d="M655.6,148 L655.6,94.2 L749.1,94.2 L749.1,148" fill="none" stroke="#231f20" stroke-width="1.3" stroke-linejoin="miter"/>
<line x1="655.6" y1="101.2" x2="749.1" y2="101.2" stroke="#231f20" stroke-width="1.25"/>
<path d="M655.6,279.5 L655.6,298.1 L749.1,298.1 L749.1,279.5" fill="none" stroke="#231f20" stroke-width="1.4" stroke-linejoin="miter"/>
<line x1="655.6" y1="291.9" x2="749.1" y2="291.9" stroke="#231f20" stroke-width="1"/>
<line x1="654.2" y1="148" x2="654.2" y2="171.4" stroke="#2a2a2a" stroke-width="2"/>
<line x1="652.8" y1="171.4" x2="652.8" y2="193.6" stroke="#333" stroke-width="2.6"/>
<line x1="652.5" y1="193.6" x2="652.5" y2="233.9" stroke="#6a6a6a" stroke-width="3.4"/>
<line x1="650.7" y1="193.6" x2="650.7" y2="233.9" stroke="#231f20" stroke-width="1.5"/>
<line x1="653.2" y1="233.9" x2="653.2" y2="258" stroke="#444" stroke-width="1.8"/>
<line x1="654.3" y1="258" x2="654.3" y2="279.2" stroke="#4a4a4a" stroke-width="2.4"/>
<line x1="654.7" y1="162" x2="654.7" y2="258" stroke="#231f20" stroke-width="0.7"/>
<line x1="655.6" y1="148" x2="655.6" y2="162.6" stroke="#231f20" stroke-width="1"/>
<line x1="654.8" y1="162.6" x2="664.9" y2="171.1" stroke="#231f20" stroke-width="0.8"/>
<line x1="664.9" y1="251.6" x2="655" y2="261.2" stroke="#231f20" stroke-width="0.8"/>
<line x1="664.9" y1="171.2" x2="664.9" y2="251.8" stroke="#6a6a6a" stroke-width="1.2"/>
<path d="M664.9,180.9 Q663,186 659.6,186.2 L654.7,186.2" fill="none" stroke="#231f20" stroke-width="0.85" stroke-linejoin="round"/>
<path d="M654.7,241.5 L659.3,241.5 Q662,242 664.9,247.5" fill="none" stroke="#231f20" stroke-width="0.85" stroke-linejoin="round"/>
<line x1="654.7" y1="207.9" x2="664.9" y2="207.9" stroke="#4a4a4a" stroke-width="0.9"/>
<line x1="654.7" y1="220.9" x2="664.9" y2="220.9" stroke="#4a4a4a" stroke-width="0.9"/>
<line x1="654.7" y1="248.1" x2="664.9" y2="248.1" stroke="#231f20" stroke-width="1.1"/>
<line x1="750.9" y1="148" x2="750.9" y2="171.4" stroke="#2a2a2a" stroke-width="2"/>
<line x1="752.3" y1="171.4" x2="752.3" y2="193.6" stroke="#333" stroke-width="2.6"/>
<line x1="752.6" y1="193.6" x2="752.6" y2="233.9" stroke="#6a6a6a" stroke-width="3.4"/>
<line x1="754.4" y1="193.6" x2="754.4" y2="233.9" stroke="#231f20" stroke-width="1.5"/>
<line x1="751.9" y1="233.9" x2="751.9" y2="258" stroke="#444" stroke-width="1.8"/>
<line x1="750.8" y1="258" x2="750.8" y2="279.2" stroke="#4a4a4a" stroke-width="2.4"/>
<line x1="750" y1="162" x2="750" y2="258" stroke="#231f20" stroke-width="0.7"/>
<line x1="749.1" y1="148" x2="749.1" y2="162.6" stroke="#231f20" stroke-width="1"/>
<line x1="749.9" y1="162.6" x2="739.8" y2="171.1" stroke="#231f20" stroke-width="0.8"/>
<line x1="739.8" y1="251.6" x2="749.7" y2="261.2" stroke="#231f20" stroke-width="0.8"/>
<line x1="739.8" y1="171.2" x2="739.8" y2="251.8" stroke="#6a6a6a" stroke-width="1.2"/>
<path d="M739.8,180.9 Q741.7,186 745.1,186.2 L750,186.2" fill="none" stroke="#231f20" stroke-width="0.85" stroke-linejoin="round"/>
<path d="M750,241.5 L745.4,241.5 Q742.7,242 739.8,247.5" fill="none" stroke="#231f20" stroke-width="0.85" stroke-linejoin="round"/>
<line x1="750" y1="207.9" x2="739.8" y2="207.9" stroke="#4a4a4a" stroke-width="0.9"/>
<line x1="750" y1="220.9" x2="739.8" y2="220.9" stroke="#4a4a4a" stroke-width="0.9"/>
<line x1="750" y1="248.1" x2="739.8" y2="248.1" stroke="#231f20" stroke-width="1.1"/>
<rect x="660.4" y="186.2" width="4.2" height="14.2" fill="none" stroke="#231f20" stroke-width="0.6"/>
<line x1="664.9" y1="171.3" x2="739.8" y2="171.3" stroke="#555" stroke-width="1.2"/>
<line x1="664.9" y1="174.4" x2="739.8" y2="174.4" stroke="#231f20" stroke-width="0.8"/>
<line x1="664.9" y1="248.9" x2="739.8" y2="248.9" stroke="#777" stroke-width="1.2"/>
<line x1="664.9" y1="251.9" x2="739.8" y2="251.9" stroke="#888" stroke-width="1"/>
<circle cx="702.35" cy="142.3" r="21.4" fill="none" stroke="#231f20" stroke-width="0.7"/>
<circle cx="702.35" cy="142.3" r="28.2" fill="none" stroke="#231f20" stroke-width="0.6" stroke-dasharray="7 2.2"/>
<circle cx="682.55" cy="122.5" r="2.7" fill="#ffffff" stroke="#2a2a2a" stroke-width="1"/>
<line x1="677.75" y1="122.5" x2="687.35" y2="122.5" stroke="#333" stroke-width="0.6"/>
<line x1="682.55" y1="117.7" x2="682.55" y2="127.3" stroke="#333" stroke-width="0.6"/>
<circle cx="682.55" cy="162.1" r="2.7" fill="#ffffff" stroke="#2a2a2a" stroke-width="1"/>
<line x1="677.75" y1="162.1" x2="687.35" y2="162.1" stroke="#333" stroke-width="0.6"/>
<line x1="682.55" y1="157.3" x2="682.55" y2="166.9" stroke="#333" stroke-width="0.6"/>
<circle cx="722.15" cy="122.5" r="2.7" fill="#ffffff" stroke="#2a2a2a" stroke-width="1"/>
<line x1="717.35" y1="122.5" x2="726.95" y2="122.5" stroke="#333" stroke-width="0.6"/>
<line x1="722.15" y1="117.7" x2="722.15" y2="127.3" stroke="#333" stroke-width="0.6"/>
<circle cx="722.15" cy="162.1" r="2.7" fill="#ffffff" stroke="#2a2a2a" stroke-width="1"/>
<line x1="717.35" y1="162.1" x2="726.95" y2="162.1" stroke="#333" stroke-width="0.6"/>
<line x1="722.15" y1="157.3" x2="722.15" y2="166.9" stroke="#333" stroke-width="0.6"/>
<line x1="692.5" y1="142.3" x2="713.7" y2="142.3" stroke="#8a8a8a" stroke-width="0.6" stroke-dasharray="8 1.5 2 1.5"/>
<circle cx="664.9" cy="132.3" r="4.9" fill="#ffffff" stroke="#231f20" stroke-width="0.7"/>
<line x1="664.9" y1="121.8" x2="664.9" y2="142.8" stroke="#777" stroke-width="0.5" stroke-dasharray="6 1.5 1.5 1.5"/>
<circle cx="664.9" cy="270.3" r="4.9" fill="#ffffff" stroke="#231f20" stroke-width="0.7"/>
<line x1="664.9" y1="259.8" x2="664.9" y2="280.8" stroke="#777" stroke-width="0.5" stroke-dasharray="6 1.5 1.5 1.5"/>
<circle cx="739.8" cy="132.3" r="4.9" fill="#ffffff" stroke="#231f20" stroke-width="0.7"/>
<line x1="739.8" y1="121.8" x2="739.8" y2="142.8" stroke="#777" stroke-width="0.5" stroke-dasharray="6 1.5 1.5 1.5"/>
<circle cx="739.8" cy="270.3" r="4.9" fill="#ffffff" stroke="#231f20" stroke-width="0.7"/>
<line x1="739.8" y1="259.8" x2="739.8" y2="280.8" stroke="#777" stroke-width="0.5" stroke-dasharray="6 1.5 1.5 1.5"/>
<line x1="659.9" y1="132.3" x2="675.9" y2="132.3" stroke="#777" stroke-width="0.5" stroke-dasharray="8 1.5 1.5 1.5"/>
<line x1="728.8" y1="132.3" x2="744.8" y2="132.3" stroke="#777" stroke-width="0.5" stroke-dasharray="8 1.5 1.5 1.5"/>
<line x1="659.9" y1="270.3" x2="675.9" y2="270.3" stroke="#777" stroke-width="0.5" stroke-dasharray="8 1.5 1.5 1.5"/>
<line x1="728.8" y1="270.3" x2="744.8" y2="270.3" stroke="#777" stroke-width="0.5" stroke-dasharray="8 1.5 1.5 1.5"/>
<circle cx="702.35" cy="189.5" r="7.6" fill="#5c5c5c" stroke="#8a8a8a" stroke-width="0.8"/>
<circle cx="702.35" cy="189.5" r="6" fill="none" stroke="#9a9a9a" stroke-width="0.7"/>
<circle cx="702.35" cy="189.5" r="4.3" fill="#ececec" stroke="#2e2e2e" stroke-width="0.9"/>
<circle cx="702.35" cy="189.5" r="2.6" fill="#c9c9c9" stroke="#444" stroke-width="0.7"/>
<line x1="700.15" y1="190.3" x2="704.55" y2="190.3" stroke="#444" stroke-width="0.7"/>
<line x1="655.6" y1="3.2" x2="655.6" y2="92" stroke="#777" stroke-width="0.8"/>
<line x1="749.1" y1="3.2" x2="749.1" y2="92" stroke="#777" stroke-width="0.8"/>
<line x1="664.9" y1="25.7" x2="664.9" y2="125" stroke="#666" stroke-width="0.8" stroke-dasharray="91.3 2 3 2 40 2 3 2"/>
<line x1="739.8" y1="25.7" x2="739.8" y2="125" stroke="#666" stroke-width="0.8" stroke-dasharray="91.3 2 3 2 40 2 3 2"/>
<line x1="674.7" y1="47.2" x2="674.7" y2="142" stroke="#777" stroke-width="0.8"/>
<line x1="730.4" y1="47.2" x2="730.4" y2="142" stroke="#777" stroke-width="0.8"/>
<line x1="679.2" y1="64.2" x2="679.2" y2="120.5" stroke="#777" stroke-width="0.8"/>
<line x1="686" y1="64.2" x2="686" y2="120.5" stroke="#777" stroke-width="0.8"/>
<line x1="702.35" y1="91" x2="702.35" y2="307" stroke="#4a4a4a" stroke-width="0.75" stroke-dasharray="11 1.8 2 1.8"/>
<line x1="632.5" y1="214.4" x2="757.5" y2="214.4" stroke="#4a4a4a" stroke-width="0.75" stroke-dasharray="11 1.8 2 1.8"/>
<line x1="655.6" y1="7.8" x2="749.1" y2="7.8" stroke="#444" stroke-width="0.7"/>
<polygon points="655.6,7.8 664.4,5.9 664.4,9.7" fill="#231f20"/>
<polygon points="749.1,7.8 740.3,9.7 740.3,5.9" fill="#231f20"/>
<line x1="664.9" y1="29.9" x2="739.8" y2="29.9" stroke="#444" stroke-width="0.7"/>
<polygon points="664.9,29.9 673.7,28 673.7,31.8" fill="#231f20"/>
<polygon points="739.8,29.9 731,31.8 731,28" fill="#231f20"/>
<line x1="674.7" y1="51.9" x2="730.4" y2="51.9" stroke="#444" stroke-width="0.7"/>
<polygon points="674.7,51.9 683.5,50 683.5,53.8" fill="#231f20"/>
<polygon points="730.4,51.9 721.6,53.8 721.6,50" fill="#231f20"/>
<line x1="669" y1="68.5" x2="721.2" y2="68.5" stroke="#444" stroke-width="0.7"/>
<polygon points="679.2,68.5 670.4,70.4 670.4,66.6" fill="#231f20"/>
<polygon points="686,68.5 694.8,66.6 694.8,70.4" fill="#231f20"/>
<text x="703.3" y="5" font-size="14.3" text-anchor="middle" fill="#231f20">B</text>
<text x="703.3" y="28" font-size="14.3" text-anchor="middle" fill="#231f20">b</text>
<text x="704" y="50.1" font-size="14.3" text-anchor="middle" fill="#231f20">Ru</text>
<text x="710.2" y="67" font-size="14.3" text-anchor="middle" fill="#231f20">Mu</text>
<line x1="601.7" y1="132.3" x2="659.9" y2="132.3" stroke="#666" stroke-width="0.7"/>
<line x1="601.7" y1="270.3" x2="659.9" y2="270.3" stroke="#666" stroke-width="0.7"/>
<line x1="607.2" y1="132.3" x2="607.2" y2="270.3" stroke="#555" stroke-width="0.65"/>
<polygon points="607.2,132.3 609.1,141.1 605.3,141.1" fill="#231f20"/>
<polygon points="607.2,270.3 605.3,261.5 609.1,261.5" fill="#231f20"/>
<line x1="629.9" y1="132.3" x2="629.9" y2="214.4" stroke="#333" stroke-width="0.7"/>
<polygon points="629.9,132.3 631.8,141.1 628,141.1" fill="#231f20"/>
<polygon points="629.9,214.4 628,205.6 631.8,205.6" fill="#231f20"/>
<line x1="629.9" y1="214.4" x2="629.9" y2="270.3" stroke="#333" stroke-width="0.7"/>
<polygon points="629.9,214.4 631.8,223.2 628,223.2" fill="#231f20"/>
<polygon points="629.9,270.3 628,261.5 631.8,261.5" fill="#231f20"/>
<text x="604.6" y="203.2" font-size="14.3" text-anchor="middle" fill="#231f20" transform="rotate(-90 604.6 203.2)">h</text>
<text x="627.3" y="173.5" font-size="14.3" text-anchor="middle" fill="#231f20" transform="rotate(-90 627.3 173.5)">h2</text>
<text x="627.3" y="241" font-size="14.3" text-anchor="middle" fill="#231f20" transform="rotate(-90 627.3 241)">h1</text>
<line x1="754.6" y1="171.4" x2="782" y2="171.4" stroke="#777" stroke-width="0.7"/>
<line x1="754.6" y1="257.3" x2="783" y2="257.3" stroke="#333" stroke-width="0.9"/>
<line x1="777.7" y1="171.4" x2="777.7" y2="257.3" stroke="#555" stroke-width="0.65"/>
<polygon points="777.7,171.4 779.6,180.2 775.8,180.2" fill="#231f20"/>
<polygon points="777.7,257.3 775.8,248.5 779.6,248.5" fill="#231f20"/>
<text x="775.6" y="214.4" font-size="14.3" text-anchor="middle" fill="#231f20" transform="rotate(-90 775.6 214.4)">G</text>
<line x1="743" y1="266.1" x2="805" y2="266.1" stroke="#8a8a8a" stroke-width="0.8"/>
<line x1="743" y1="275.3" x2="805" y2="275.3" stroke="#8a8a8a" stroke-width="0.8"/>
<line x1="801.1" y1="232.7" x2="801.1" y2="290" stroke="#666" stroke-width="0.7"/>
<polygon points="801.1,266.1 799.2,257.3 803,257.3" fill="#231f20"/>
<polygon points="801.1,275.3 803,284.1 799.2,284.1" fill="#231f20"/>
<text x="798.5" y="239.4" font-size="14.3" text-anchor="middle" fill="#231f20" transform="rotate(-90 798.5 239.4)">f</text>
<line x1="650.1" y1="236.8" x2="650.1" y2="350" stroke="#555" stroke-width="0.9"/>
<line x1="652.7" y1="258.5" x2="652.7" y2="328" stroke="#666" stroke-width="0.9"/>
<line x1="754.6" y1="257.4" x2="754.6" y2="350" stroke="#666" stroke-width="0.8"/>
<line x1="626" y1="322.7" x2="702" y2="322.7" stroke="#444" stroke-width="0.7"/>
<polygon points="650.4,322.7 641.6,324.6 641.6,320.8" fill="#231f20"/>
<polygon points="652.6,322.7 661.4,320.8 661.4,324.6" fill="#231f20"/>
<polygon points="702.05,322.7 693.25,324.6 693.25,320.8" fill="#231f20"/>
<text x="633.8" y="321" font-size="14.3" text-anchor="middle" fill="#231f20">X</text>
<text x="677" y="318.3" font-size="14.3" text-anchor="middle" fill="#231f20">Pp</text>
<line x1="650.1" y1="344.7" x2="702.35" y2="344.7" stroke="#444" stroke-width="0.7"/>
<polygon points="650.1,344.7 658.9,342.8 658.9,346.6" fill="#231f20"/>
<polygon points="702.35,344.7 693.55,346.6 693.55,342.8" fill="#231f20"/>
<line x1="702.35" y1="344.7" x2="754.6" y2="344.7" stroke="#444" stroke-width="0.7"/>
<polygon points="702.35,344.7 711.15,342.8 711.15,346.6" fill="#231f20"/>
<polygon points="754.6,344.7 745.8,346.6 745.8,342.8" fill="#231f20"/>
<line x1="702.35" y1="308" x2="702.35" y2="350" stroke="#555" stroke-width="0.8"/>
<text x="676.2" y="342.6" font-size="14.3" text-anchor="middle" fill="#231f20">C</text>
<text x="727.8" y="342.6" font-size="14.3" text-anchor="middle" fill="#231f20">C</text>
</g>
<text transform="translate(22.9,1029.9) scale(1,1.06)" font-size="28" font-weight="bold" stroke-width="0.35"><tspan fill="#9d9fa2" stroke="#9d9fa2">X</tspan><tspan fill="#1a1a1a" stroke="#1a1a1a">C</tspan></text>
</svg>
</body>
</html>
